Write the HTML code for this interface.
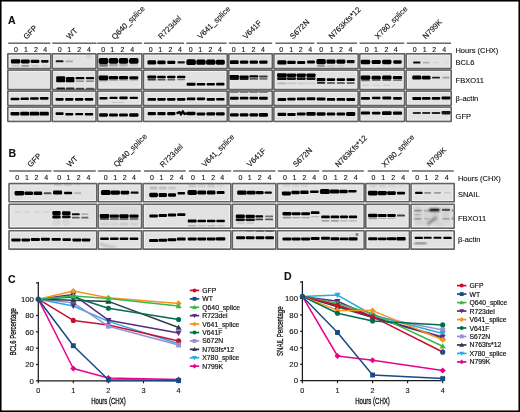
<!DOCTYPE html>
<html><head><meta charset="utf-8"><style>html,body{margin:0;padding:0;background:#fff;width:520px;height:412px;overflow:hidden}svg{will-change:transform}text{font-family:"Liberation Sans", sans-serif}</style></head><body>
<svg width="520" height="412" viewBox="0 0 520 412" style="display:block" font-family='"Liberation Sans", sans-serif' fill="#111">
<defs><filter id="b" x="-30%" y="-60%" width="160%" height="220%"><feGaussianBlur stdDeviation="0.55"/></filter><filter id="b2" x="-20%" y="-40%" width="140%" height="180%"><feGaussianBlur stdDeviation="1.2"/></filter></defs>
<rect x="0" y="0" width="520" height="412" fill="#fff"/>
<rect x="7.00" y="53.00" width="44.50" height="16.30" rx="1.2" fill="#626262"/>
<rect x="8.60" y="54.60" width="41.30" height="13.10" fill="#f5f5f5"/>
<rect x="9.50" y="55.50" width="39.50" height="11.30" fill="#e2e2e2"/>
<rect x="51.50" y="53.00" width="45.30" height="16.30" rx="1.2" fill="#626262"/>
<rect x="53.10" y="54.60" width="42.10" height="13.10" fill="#f5f5f5"/>
<rect x="54.00" y="55.50" width="40.30" height="11.30" fill="#e2e2e2"/>
<rect x="96.80" y="53.00" width="45.85" height="16.30" rx="1.2" fill="#626262"/>
<rect x="98.40" y="54.60" width="42.65" height="13.10" fill="#f5f5f5"/>
<rect x="99.30" y="55.50" width="40.85" height="11.30" fill="#e2e2e2"/>
<rect x="142.65" y="53.00" width="85.35" height="16.30" rx="1.2" fill="#626262"/>
<rect x="144.25" y="54.60" width="82.15" height="13.10" fill="#f5f5f5"/>
<rect x="145.15" y="55.50" width="80.35" height="11.30" fill="#e2e2e2"/>
<rect x="228.00" y="53.00" width="45.10" height="16.30" rx="1.2" fill="#626262"/>
<rect x="229.60" y="54.60" width="41.90" height="13.10" fill="#f5f5f5"/>
<rect x="230.50" y="55.50" width="40.10" height="11.30" fill="#e2e2e2"/>
<rect x="273.10" y="53.00" width="85.85" height="16.30" rx="1.2" fill="#626262"/>
<rect x="274.70" y="54.60" width="82.65" height="13.10" fill="#f5f5f5"/>
<rect x="275.60" y="55.50" width="80.85" height="11.30" fill="#e2e2e2"/>
<rect x="358.95" y="53.00" width="46.40" height="16.30" rx="1.2" fill="#626262"/>
<rect x="360.55" y="54.60" width="43.20" height="13.10" fill="#f5f5f5"/>
<rect x="361.45" y="55.50" width="41.40" height="11.30" fill="#e2e2e2"/>
<rect x="405.35" y="53.00" width="46.65" height="16.30" rx="1.2" fill="#626262"/>
<rect x="406.95" y="54.60" width="43.45" height="13.10" fill="#f5f5f5"/>
<rect x="407.85" y="55.50" width="41.65" height="11.30" fill="#e2e2e2"/>
<rect x="7.00" y="69.30" width="44.50" height="21.00" rx="1.2" fill="#626262"/>
<rect x="8.60" y="70.90" width="41.30" height="17.80" fill="#f5f5f5"/>
<rect x="9.50" y="71.80" width="39.50" height="16.00" fill="#e2e2e2"/>
<rect x="51.50" y="69.30" width="45.30" height="21.00" rx="1.2" fill="#626262"/>
<rect x="53.10" y="70.90" width="42.10" height="17.80" fill="#f5f5f5"/>
<rect x="54.00" y="71.80" width="40.30" height="16.00" fill="#e2e2e2"/>
<rect x="96.80" y="69.30" width="45.85" height="21.00" rx="1.2" fill="#626262"/>
<rect x="98.40" y="70.90" width="42.65" height="17.80" fill="#f5f5f5"/>
<rect x="99.30" y="71.80" width="40.85" height="16.00" fill="#e2e2e2"/>
<rect x="142.65" y="69.30" width="85.35" height="21.00" rx="1.2" fill="#626262"/>
<rect x="144.25" y="70.90" width="82.15" height="17.80" fill="#f5f5f5"/>
<rect x="145.15" y="71.80" width="80.35" height="16.00" fill="#e2e2e2"/>
<rect x="228.00" y="69.30" width="45.10" height="21.00" rx="1.2" fill="#626262"/>
<rect x="229.60" y="70.90" width="41.90" height="17.80" fill="#f5f5f5"/>
<rect x="230.50" y="71.80" width="40.10" height="16.00" fill="#e2e2e2"/>
<rect x="273.10" y="69.30" width="85.85" height="21.00" rx="1.2" fill="#626262"/>
<rect x="274.70" y="70.90" width="82.65" height="17.80" fill="#f5f5f5"/>
<rect x="275.60" y="71.80" width="80.85" height="16.00" fill="#e2e2e2"/>
<rect x="358.95" y="69.30" width="46.40" height="21.00" rx="1.2" fill="#626262"/>
<rect x="360.55" y="70.90" width="43.20" height="17.80" fill="#f5f5f5"/>
<rect x="361.45" y="71.80" width="41.40" height="16.00" fill="#e2e2e2"/>
<rect x="405.35" y="69.30" width="46.65" height="21.00" rx="1.2" fill="#626262"/>
<rect x="406.95" y="70.90" width="43.45" height="17.80" fill="#f5f5f5"/>
<rect x="407.85" y="71.80" width="41.65" height="16.00" fill="#e2e2e2"/>
<rect x="7.00" y="90.30" width="44.50" height="16.00" rx="1.2" fill="#626262"/>
<rect x="8.60" y="91.90" width="41.30" height="12.80" fill="#f5f5f5"/>
<rect x="9.50" y="92.80" width="39.50" height="11.00" fill="#e2e2e2"/>
<rect x="51.50" y="90.30" width="45.30" height="16.00" rx="1.2" fill="#626262"/>
<rect x="53.10" y="91.90" width="42.10" height="12.80" fill="#f5f5f5"/>
<rect x="54.00" y="92.80" width="40.30" height="11.00" fill="#e2e2e2"/>
<rect x="96.80" y="90.30" width="45.85" height="16.00" rx="1.2" fill="#626262"/>
<rect x="98.40" y="91.90" width="42.65" height="12.80" fill="#f5f5f5"/>
<rect x="99.30" y="92.80" width="40.85" height="11.00" fill="#e2e2e2"/>
<rect x="142.65" y="90.30" width="85.35" height="16.00" rx="1.2" fill="#626262"/>
<rect x="144.25" y="91.90" width="82.15" height="12.80" fill="#f5f5f5"/>
<rect x="145.15" y="92.80" width="80.35" height="11.00" fill="#e2e2e2"/>
<rect x="228.00" y="90.30" width="45.10" height="16.00" rx="1.2" fill="#626262"/>
<rect x="229.60" y="91.90" width="41.90" height="12.80" fill="#f5f5f5"/>
<rect x="230.50" y="92.80" width="40.10" height="11.00" fill="#e2e2e2"/>
<rect x="273.10" y="90.30" width="85.85" height="16.00" rx="1.2" fill="#626262"/>
<rect x="274.70" y="91.90" width="82.65" height="12.80" fill="#f5f5f5"/>
<rect x="275.60" y="92.80" width="80.85" height="11.00" fill="#e2e2e2"/>
<rect x="358.95" y="90.30" width="46.40" height="16.00" rx="1.2" fill="#626262"/>
<rect x="360.55" y="91.90" width="43.20" height="12.80" fill="#f5f5f5"/>
<rect x="361.45" y="92.80" width="41.40" height="11.00" fill="#e2e2e2"/>
<rect x="405.35" y="90.30" width="46.65" height="16.00" rx="1.2" fill="#626262"/>
<rect x="406.95" y="91.90" width="43.45" height="12.80" fill="#f5f5f5"/>
<rect x="407.85" y="92.80" width="41.65" height="11.00" fill="#e2e2e2"/>
<rect x="7.00" y="106.30" width="44.50" height="15.90" rx="1.2" fill="#626262"/>
<rect x="8.60" y="107.90" width="41.30" height="12.70" fill="#f5f5f5"/>
<rect x="9.50" y="108.80" width="39.50" height="10.90" fill="#e2e2e2"/>
<rect x="51.50" y="106.30" width="45.30" height="15.90" rx="1.2" fill="#626262"/>
<rect x="53.10" y="107.90" width="42.10" height="12.70" fill="#f5f5f5"/>
<rect x="54.00" y="108.80" width="40.30" height="10.90" fill="#e2e2e2"/>
<rect x="96.80" y="106.30" width="45.85" height="15.90" rx="1.2" fill="#626262"/>
<rect x="98.40" y="107.90" width="42.65" height="12.70" fill="#f5f5f5"/>
<rect x="99.30" y="108.80" width="40.85" height="10.90" fill="#e2e2e2"/>
<rect x="142.65" y="106.30" width="85.35" height="15.90" rx="1.2" fill="#626262"/>
<rect x="144.25" y="107.90" width="82.15" height="12.70" fill="#f5f5f5"/>
<rect x="145.15" y="108.80" width="80.35" height="10.90" fill="#e2e2e2"/>
<rect x="228.00" y="106.30" width="45.10" height="15.90" rx="1.2" fill="#626262"/>
<rect x="229.60" y="107.90" width="41.90" height="12.70" fill="#f5f5f5"/>
<rect x="230.50" y="108.80" width="40.10" height="10.90" fill="#e2e2e2"/>
<rect x="273.10" y="106.30" width="85.85" height="15.90" rx="1.2" fill="#626262"/>
<rect x="274.70" y="107.90" width="82.65" height="12.70" fill="#f5f5f5"/>
<rect x="275.60" y="108.80" width="80.85" height="10.90" fill="#e2e2e2"/>
<rect x="358.95" y="106.30" width="46.40" height="15.90" rx="1.2" fill="#626262"/>
<rect x="360.55" y="107.90" width="43.20" height="12.70" fill="#f5f5f5"/>
<rect x="361.45" y="108.80" width="41.40" height="10.90" fill="#e2e2e2"/>
<rect x="405.35" y="106.30" width="46.65" height="15.90" rx="1.2" fill="#626262"/>
<rect x="406.95" y="107.90" width="43.45" height="12.70" fill="#f5f5f5"/>
<rect x="407.85" y="108.80" width="41.65" height="10.90" fill="#e2e2e2"/>
<rect x="10.95" y="59.20" width="9.30" height="4.40" rx="1.41" fill="#050505" fill-opacity="1" filter="url(#b)"/>
<rect x="20.85" y="59.40" width="8.90" height="4.00" rx="1.28" fill="#050505" fill-opacity="1" filter="url(#b)"/>
<rect x="30.65" y="59.70" width="8.70" height="3.40" rx="1.09" fill="#050505" fill-opacity="1" filter="url(#b)"/>
<rect x="41.05" y="60.10" width="7.50" height="2.60" rx="0.83" fill="#050505" fill-opacity="0.95" filter="url(#b)"/>
<rect x="11.75" y="65.00" width="7.70" height="1.60" rx="0.51" fill="#050505" fill-opacity="0.15" filter="url(#b)"/>
<rect x="21.45" y="64.90" width="7.70" height="1.80" rx="0.58" fill="#050505" fill-opacity="0.35" filter="url(#b)"/>
<rect x="31.15" y="65.00" width="7.70" height="1.60" rx="0.51" fill="#050505" fill-opacity="0.14" filter="url(#b)"/>
<rect x="41.45" y="65.10" width="6.70" height="1.40" rx="0.45" fill="#050505" fill-opacity="0.08" filter="url(#b)"/>
<rect x="55.75" y="60.30" width="7.70" height="2.00" rx="0.64" fill="#050505" fill-opacity="0.9" filter="url(#b)"/>
<rect x="65.55" y="60.40" width="7.50" height="1.80" rx="0.58" fill="#050505" fill-opacity="0.28" filter="url(#b)"/>
<rect x="86.15" y="54.50" width="5.70" height="4.00" rx="1.28" fill="#050505" fill-opacity="0.07" filter="url(#b)"/>
<rect x="98.65" y="57.90" width="9.70" height="6.00" rx="1.92" fill="#050505" fill-opacity="1" filter="url(#b)"/>
<rect x="108.75" y="58.10" width="9.50" height="5.60" rx="1.79" fill="#050505" fill-opacity="1" filter="url(#b)"/>
<rect x="118.75" y="58.10" width="9.50" height="5.60" rx="1.79" fill="#050505" fill-opacity="1" filter="url(#b)"/>
<rect x="129.05" y="58.10" width="9.50" height="5.60" rx="1.79" fill="#050505" fill-opacity="1" filter="url(#b)"/>
<rect x="99.15" y="63.70" width="8.70" height="3.00" rx="0.96" fill="#050505" fill-opacity="0.45" filter="url(#b)"/>
<rect x="109.15" y="63.90" width="8.70" height="2.60" rx="0.83" fill="#050505" fill-opacity="0.25" filter="url(#b)"/>
<rect x="119.15" y="64.00" width="8.70" height="2.40" rx="0.77" fill="#050505" fill-opacity="0.2" filter="url(#b)"/>
<rect x="129.45" y="64.20" width="8.70" height="2.00" rx="0.64" fill="#050505" fill-opacity="0.1" filter="url(#b)"/>
<rect x="147.45" y="60.30" width="8.70" height="4.20" rx="1.34" fill="#050505" fill-opacity="1" filter="url(#b)"/>
<rect x="157.35" y="60.50" width="8.30" height="3.80" rx="1.22" fill="#050505" fill-opacity="1" filter="url(#b)"/>
<rect x="167.25" y="60.70" width="8.10" height="3.40" rx="1.09" fill="#050505" fill-opacity="1" filter="url(#b)"/>
<rect x="177.55" y="61.20" width="7.30" height="2.40" rx="0.77" fill="#050505" fill-opacity="0.9" filter="url(#b)"/>
<rect x="186.35" y="59.30" width="9.50" height="5.80" rx="1.86" fill="#050505" fill-opacity="1" filter="url(#b)"/>
<rect x="196.35" y="59.60" width="9.30" height="5.20" rx="1.66" fill="#050505" fill-opacity="1" filter="url(#b)"/>
<rect x="206.15" y="59.60" width="9.30" height="5.20" rx="1.66" fill="#050505" fill-opacity="1" filter="url(#b)"/>
<rect x="215.75" y="59.70" width="9.10" height="5.00" rx="1.60" fill="#050505" fill-opacity="1" filter="url(#b)"/>
<rect x="229.95" y="60.30" width="8.70" height="3.80" rx="1.22" fill="#050505" fill-opacity="1" filter="url(#b)"/>
<rect x="239.95" y="60.55" width="8.30" height="3.30" rx="1.06" fill="#050505" fill-opacity="1" filter="url(#b)"/>
<rect x="249.65" y="60.55" width="8.30" height="3.30" rx="1.06" fill="#050505" fill-opacity="1" filter="url(#b)"/>
<rect x="259.25" y="60.55" width="8.30" height="3.30" rx="1.06" fill="#050505" fill-opacity="1" filter="url(#b)"/>
<rect x="277.35" y="60.30" width="9.10" height="4.20" rx="1.34" fill="#050505" fill-opacity="1" filter="url(#b)"/>
<rect x="287.25" y="60.70" width="8.50" height="3.40" rx="1.09" fill="#050505" fill-opacity="1" filter="url(#b)"/>
<rect x="297.15" y="60.90" width="8.10" height="3.00" rx="0.96" fill="#050505" fill-opacity="1" filter="url(#b)"/>
<rect x="307.05" y="60.60" width="7.90" height="2.80" rx="0.90" fill="#050505" fill-opacity="1" filter="url(#b)"/>
<rect x="316.35" y="59.00" width="9.50" height="5.20" rx="1.66" fill="#050505" fill-opacity="1" filter="url(#b)"/>
<rect x="326.55" y="59.40" width="8.90" height="4.40" rx="1.41" fill="#050505" fill-opacity="1" filter="url(#b)"/>
<rect x="336.45" y="59.50" width="8.90" height="4.20" rx="1.34" fill="#050505" fill-opacity="1" filter="url(#b)"/>
<rect x="346.75" y="60.00" width="7.90" height="3.20" rx="1.02" fill="#050505" fill-opacity="0.92" filter="url(#b)"/>
<rect x="317.25" y="64.70" width="7.70" height="2.20" rx="0.70" fill="#050505" fill-opacity="0.3" filter="url(#b)"/>
<rect x="327.15" y="64.90" width="7.70" height="1.80" rx="0.58" fill="#050505" fill-opacity="0.12" filter="url(#b)"/>
<rect x="337.05" y="65.00" width="7.70" height="1.60" rx="0.51" fill="#050505" fill-opacity="0.1" filter="url(#b)"/>
<rect x="360.75" y="59.70" width="9.50" height="4.60" rx="1.47" fill="#050505" fill-opacity="1" filter="url(#b)"/>
<rect x="371.65" y="59.90" width="9.10" height="4.20" rx="1.34" fill="#050505" fill-opacity="1" filter="url(#b)"/>
<rect x="382.15" y="59.80" width="9.30" height="4.40" rx="1.41" fill="#050505" fill-opacity="1" filter="url(#b)"/>
<rect x="393.25" y="60.30" width="8.50" height="3.40" rx="1.09" fill="#050505" fill-opacity="1" filter="url(#b)"/>
<rect x="413.15" y="61.60" width="7.30" height="2.00" rx="0.64" fill="#050505" fill-opacity="0.95" filter="url(#b)"/>
<rect x="422.85" y="61.70" width="6.70" height="1.80" rx="0.58" fill="#050505" fill-opacity="0.22" filter="url(#b)"/>
<rect x="432.90" y="61.85" width="6.20" height="1.50" rx="0.48" fill="#050505" fill-opacity="0.07" filter="url(#b)"/>
<rect x="443.15" y="61.90" width="5.70" height="1.40" rx="0.45" fill="#050505" fill-opacity="0.04" filter="url(#b)"/>
<rect x="56.15" y="76.30" width="9.10" height="3.80" rx="1.22" fill="#050505" fill-opacity="1" filter="url(#b)"/>
<rect x="65.95" y="77.10" width="8.50" height="3.00" rx="0.96" fill="#050505" fill-opacity="1" filter="url(#b)"/>
<rect x="75.65" y="77.00" width="8.70" height="2.20" rx="0.70" fill="#050505" fill-opacity="1" filter="url(#b)"/>
<rect x="85.85" y="77.00" width="8.30" height="2.20" rx="0.70" fill="#050505" fill-opacity="0.95" filter="url(#b)"/>
<rect x="56.15" y="79.70" width="9.10" height="2.60" rx="0.83" fill="#050505" fill-opacity="1" filter="url(#b)"/>
<rect x="65.95" y="79.80" width="8.50" height="2.40" rx="0.77" fill="#050505" fill-opacity="1" filter="url(#b)"/>
<rect x="75.95" y="80.40" width="8.10" height="1.40" rx="0.45" fill="#050505" fill-opacity="0.45" filter="url(#b)"/>
<rect x="86.05" y="80.40" width="7.90" height="1.40" rx="0.45" fill="#050505" fill-opacity="0.5" filter="url(#b)"/>
<rect x="56.45" y="87.50" width="8.50" height="1.80" rx="0.58" fill="#050505" fill-opacity="0.9" filter="url(#b)"/>
<rect x="66.05" y="87.60" width="8.30" height="1.60" rx="0.51" fill="#050505" fill-opacity="0.8" filter="url(#b)"/>
<rect x="75.95" y="87.65" width="8.10" height="1.50" rx="0.48" fill="#050505" fill-opacity="0.7" filter="url(#b)"/>
<rect x="86.05" y="87.65" width="7.90" height="1.50" rx="0.48" fill="#050505" fill-opacity="0.6" filter="url(#b)"/>
<rect x="98.65" y="75.50" width="9.70" height="4.60" rx="1.47" fill="#050505" fill-opacity="1" filter="url(#b)"/>
<rect x="108.85" y="76.00" width="9.30" height="3.60" rx="1.15" fill="#050505" fill-opacity="1" filter="url(#b)"/>
<rect x="118.95" y="76.10" width="9.10" height="3.40" rx="1.09" fill="#050505" fill-opacity="1" filter="url(#b)"/>
<rect x="129.35" y="76.20" width="8.90" height="3.20" rx="1.02" fill="#050505" fill-opacity="1" filter="url(#b)"/>
<rect x="99.15" y="79.50" width="8.70" height="1.80" rx="0.58" fill="#050505" fill-opacity="0.45" filter="url(#b)"/>
<rect x="109.15" y="79.70" width="8.70" height="1.40" rx="0.45" fill="#050505" fill-opacity="0.25" filter="url(#b)"/>
<rect x="119.15" y="79.70" width="8.70" height="1.40" rx="0.45" fill="#050505" fill-opacity="0.2" filter="url(#b)"/>
<rect x="129.45" y="79.80" width="8.70" height="1.20" rx="0.38" fill="#050505" fill-opacity="0.15" filter="url(#b)"/>
<rect x="147.35" y="75.60" width="8.90" height="2.80" rx="0.90" fill="#050505" fill-opacity="1" filter="url(#b)"/>
<rect x="157.25" y="75.70" width="8.50" height="2.60" rx="0.83" fill="#050505" fill-opacity="1" filter="url(#b)"/>
<rect x="167.15" y="75.70" width="8.30" height="2.60" rx="0.83" fill="#050505" fill-opacity="1" filter="url(#b)"/>
<rect x="177.05" y="75.80" width="8.30" height="2.40" rx="0.77" fill="#050505" fill-opacity="1" filter="url(#b)"/>
<rect x="147.65" y="78.70" width="8.30" height="1.80" rx="0.58" fill="#050505" fill-opacity="0.75" filter="url(#b)"/>
<rect x="157.55" y="78.80" width="7.90" height="1.60" rx="0.51" fill="#050505" fill-opacity="0.6" filter="url(#b)"/>
<rect x="167.45" y="78.80" width="7.70" height="1.60" rx="0.51" fill="#050505" fill-opacity="0.55" filter="url(#b)"/>
<rect x="177.35" y="78.90" width="7.70" height="1.40" rx="0.45" fill="#050505" fill-opacity="0.45" filter="url(#b)"/>
<rect x="186.65" y="82.70" width="8.90" height="3.00" rx="0.96" fill="#050505" fill-opacity="1" filter="url(#b)"/>
<rect x="196.75" y="82.90" width="8.50" height="2.60" rx="0.83" fill="#050505" fill-opacity="1" filter="url(#b)"/>
<rect x="206.65" y="82.90" width="8.30" height="2.60" rx="0.83" fill="#050505" fill-opacity="1" filter="url(#b)"/>
<rect x="216.15" y="82.80" width="8.30" height="2.80" rx="0.90" fill="#050505" fill-opacity="1" filter="url(#b)"/>
<rect x="229.65" y="75.10" width="9.30" height="3.40" rx="1.09" fill="#050505" fill-opacity="1" filter="url(#b)"/>
<rect x="239.55" y="75.50" width="9.10" height="3.00" rx="0.96" fill="#050505" fill-opacity="1" filter="url(#b)"/>
<rect x="249.35" y="75.20" width="8.90" height="2.40" rx="0.77" fill="#050505" fill-opacity="1" filter="url(#b)"/>
<rect x="259.15" y="75.60" width="8.50" height="2.00" rx="0.64" fill="#050505" fill-opacity="0.75" filter="url(#b)"/>
<rect x="229.75" y="77.70" width="9.10" height="2.40" rx="0.77" fill="#050505" fill-opacity="0.9" filter="url(#b)"/>
<rect x="239.65" y="77.80" width="8.90" height="2.20" rx="0.70" fill="#050505" fill-opacity="0.85" filter="url(#b)"/>
<rect x="249.55" y="78.10" width="8.50" height="1.60" rx="0.51" fill="#050505" fill-opacity="0.6" filter="url(#b)"/>
<rect x="259.35" y="78.10" width="8.10" height="1.60" rx="0.51" fill="#050505" fill-opacity="0.5" filter="url(#b)"/>
<rect x="277.05" y="73.20" width="9.70" height="4.00" rx="1.28" fill="#050505" fill-opacity="1" filter="url(#b)"/>
<rect x="286.85" y="73.50" width="9.30" height="3.40" rx="1.09" fill="#050505" fill-opacity="1" filter="url(#b)"/>
<rect x="296.55" y="73.50" width="9.30" height="3.40" rx="1.09" fill="#050505" fill-opacity="1" filter="url(#b)"/>
<rect x="306.35" y="73.40" width="9.30" height="3.60" rx="1.15" fill="#050505" fill-opacity="1" filter="url(#b)"/>
<rect x="277.15" y="77.20" width="9.50" height="2.80" rx="0.90" fill="#050505" fill-opacity="0.95" filter="url(#b)"/>
<rect x="286.95" y="77.30" width="9.10" height="2.60" rx="0.83" fill="#050505" fill-opacity="0.9" filter="url(#b)"/>
<rect x="296.65" y="77.30" width="9.10" height="2.60" rx="0.83" fill="#050505" fill-opacity="0.9" filter="url(#b)"/>
<rect x="306.45" y="77.30" width="9.10" height="2.60" rx="0.83" fill="#050505" fill-opacity="0.9" filter="url(#b)"/>
<rect x="277.55" y="82.50" width="8.70" height="1.80" rx="0.58" fill="#050505" fill-opacity="0.2" filter="url(#b)"/>
<rect x="287.15" y="82.60" width="8.70" height="1.60" rx="0.51" fill="#050505" fill-opacity="0.12" filter="url(#b)"/>
<rect x="296.85" y="82.60" width="8.70" height="1.60" rx="0.51" fill="#050505" fill-opacity="0.1" filter="url(#b)"/>
<rect x="306.65" y="82.60" width="8.70" height="1.60" rx="0.51" fill="#050505" fill-opacity="0.08" filter="url(#b)"/>
<rect x="316.75" y="78.00" width="8.70" height="3.20" rx="1.02" fill="#050505" fill-opacity="1" filter="url(#b)"/>
<rect x="326.85" y="78.20" width="8.30" height="2.80" rx="0.90" fill="#050505" fill-opacity="1" filter="url(#b)"/>
<rect x="336.75" y="78.20" width="8.30" height="2.80" rx="0.90" fill="#050505" fill-opacity="1" filter="url(#b)"/>
<rect x="346.55" y="78.20" width="8.30" height="2.80" rx="0.90" fill="#050505" fill-opacity="1" filter="url(#b)"/>
<rect x="317.05" y="82.10" width="8.10" height="1.60" rx="0.51" fill="#050505" fill-opacity="0.85" filter="url(#b)"/>
<rect x="327.05" y="82.15" width="7.90" height="1.50" rx="0.48" fill="#050505" fill-opacity="0.7" filter="url(#b)"/>
<rect x="336.95" y="82.15" width="7.90" height="1.50" rx="0.48" fill="#050505" fill-opacity="0.7" filter="url(#b)"/>
<rect x="346.75" y="82.15" width="7.90" height="1.50" rx="0.48" fill="#050505" fill-opacity="0.7" filter="url(#b)"/>
<rect x="360.65" y="75.50" width="9.70" height="4.20" rx="1.34" fill="#050505" fill-opacity="1" filter="url(#b)"/>
<rect x="371.55" y="75.70" width="9.30" height="3.80" rx="1.22" fill="#050505" fill-opacity="1" filter="url(#b)"/>
<rect x="382.05" y="75.60" width="9.50" height="4.00" rx="1.28" fill="#050505" fill-opacity="1" filter="url(#b)"/>
<rect x="392.85" y="75.90" width="9.30" height="3.40" rx="1.09" fill="#050505" fill-opacity="1" filter="url(#b)"/>
<rect x="361.15" y="79.20" width="8.70" height="2.00" rx="0.64" fill="#050505" fill-opacity="0.55" filter="url(#b)"/>
<rect x="371.85" y="79.30" width="8.70" height="1.80" rx="0.58" fill="#050505" fill-opacity="0.5" filter="url(#b)"/>
<rect x="382.45" y="79.30" width="8.70" height="1.80" rx="0.58" fill="#050505" fill-opacity="0.55" filter="url(#b)"/>
<rect x="393.15" y="79.40" width="8.70" height="1.60" rx="0.51" fill="#050505" fill-opacity="0.45" filter="url(#b)"/>
<rect x="362.15" y="84.70" width="6.70" height="1.40" rx="0.45" fill="#050505" fill-opacity="0.1" filter="url(#b)"/>
<rect x="372.85" y="84.70" width="6.70" height="1.40" rx="0.45" fill="#050505" fill-opacity="0.08" filter="url(#b)"/>
<rect x="383.45" y="84.70" width="6.70" height="1.40" rx="0.45" fill="#050505" fill-opacity="0.1" filter="url(#b)"/>
<rect x="412.25" y="75.60" width="9.10" height="4.00" rx="1.28" fill="#050505" fill-opacity="1" filter="url(#b)"/>
<rect x="421.85" y="75.70" width="8.70" height="3.80" rx="1.22" fill="#050505" fill-opacity="1" filter="url(#b)"/>
<rect x="432.05" y="76.70" width="7.90" height="1.80" rx="0.58" fill="#050505" fill-opacity="0.85" filter="url(#b)"/>
<rect x="442.35" y="76.80" width="7.30" height="1.60" rx="0.51" fill="#050505" fill-opacity="0.3" filter="url(#b)"/>
<rect x="10.65" y="97.70" width="8.70" height="2.60" rx="0.83" fill="#050505" fill-opacity="1" filter="url(#b)"/>
<rect x="20.55" y="97.40" width="8.30" height="2.60" rx="0.83" fill="#050505" fill-opacity="1" filter="url(#b)"/>
<rect x="30.05" y="97.20" width="8.70" height="2.60" rx="0.83" fill="#050505" fill-opacity="1" filter="url(#b)"/>
<rect x="39.85" y="97.10" width="8.70" height="2.60" rx="0.83" fill="#050505" fill-opacity="1" filter="url(#b)"/>
<rect x="55.55" y="98.10" width="8.10" height="2.60" rx="0.83" fill="#050505" fill-opacity="1" filter="url(#b)"/>
<rect x="65.15" y="98.10" width="8.30" height="2.60" rx="0.83" fill="#050505" fill-opacity="1" filter="url(#b)"/>
<rect x="74.95" y="98.10" width="8.50" height="2.60" rx="0.83" fill="#050505" fill-opacity="1" filter="url(#b)"/>
<rect x="84.75" y="98.10" width="8.50" height="2.60" rx="0.83" fill="#050505" fill-opacity="1" filter="url(#b)"/>
<rect x="99.45" y="96.90" width="8.10" height="2.60" rx="0.83" fill="#050505" fill-opacity="1" filter="url(#b)"/>
<rect x="109.45" y="96.70" width="8.10" height="2.40" rx="0.77" fill="#050505" fill-opacity="1" filter="url(#b)"/>
<rect x="119.25" y="96.60" width="8.50" height="2.60" rx="0.83" fill="#050505" fill-opacity="1" filter="url(#b)"/>
<rect x="129.65" y="96.70" width="8.30" height="2.40" rx="0.77" fill="#050505" fill-opacity="1" filter="url(#b)"/>
<rect x="111.65" y="101.90" width="12.70" height="1.20" rx="0.38" fill="#050505" fill-opacity="0.12" filter="url(#b)"/>
<rect x="147.55" y="98.00" width="8.50" height="2.80" rx="0.90" fill="#050505" fill-opacity="1" filter="url(#b)"/>
<rect x="157.25" y="98.10" width="8.50" height="2.60" rx="0.83" fill="#050505" fill-opacity="1" filter="url(#b)"/>
<rect x="167.05" y="98.10" width="8.50" height="2.60" rx="0.83" fill="#050505" fill-opacity="1" filter="url(#b)"/>
<rect x="176.95" y="98.10" width="8.50" height="2.60" rx="0.83" fill="#050505" fill-opacity="1" filter="url(#b)"/>
<rect x="186.85" y="97.50" width="8.50" height="2.80" rx="0.90" fill="#050505" fill-opacity="1" filter="url(#b)"/>
<rect x="196.85" y="97.60" width="8.30" height="2.60" rx="0.83" fill="#050505" fill-opacity="1" filter="url(#b)"/>
<rect x="206.65" y="97.90" width="8.30" height="2.80" rx="0.90" fill="#050505" fill-opacity="1" filter="url(#b)"/>
<rect x="216.15" y="98.00" width="8.30" height="2.60" rx="0.83" fill="#050505" fill-opacity="1" filter="url(#b)"/>
<rect x="229.95" y="96.70" width="8.70" height="3.00" rx="0.96" fill="#050505" fill-opacity="1" filter="url(#b)"/>
<rect x="239.85" y="96.80" width="8.50" height="2.80" rx="0.90" fill="#050505" fill-opacity="1" filter="url(#b)"/>
<rect x="249.55" y="96.80" width="8.50" height="2.80" rx="0.90" fill="#050505" fill-opacity="1" filter="url(#b)"/>
<rect x="259.05" y="96.70" width="8.70" height="3.00" rx="0.96" fill="#050505" fill-opacity="1" filter="url(#b)"/>
<rect x="229.95" y="91.90" width="8.70" height="1.00" rx="0.32" fill="#050505" fill-opacity="0.45" filter="url(#b)"/>
<rect x="239.75" y="91.90" width="8.70" height="1.00" rx="0.32" fill="#050505" fill-opacity="0.45" filter="url(#b)"/>
<rect x="249.45" y="91.90" width="8.70" height="1.00" rx="0.32" fill="#050505" fill-opacity="0.45" filter="url(#b)"/>
<rect x="259.05" y="91.90" width="8.70" height="1.00" rx="0.32" fill="#050505" fill-opacity="0.45" filter="url(#b)"/>
<rect x="277.55" y="97.90" width="8.70" height="3.00" rx="0.96" fill="#050505" fill-opacity="1" filter="url(#b)"/>
<rect x="287.35" y="97.70" width="8.30" height="2.80" rx="0.90" fill="#050505" fill-opacity="1" filter="url(#b)"/>
<rect x="296.95" y="97.50" width="8.50" height="2.80" rx="0.90" fill="#050505" fill-opacity="1" filter="url(#b)"/>
<rect x="306.65" y="97.30" width="8.70" height="3.00" rx="0.96" fill="#050505" fill-opacity="1" filter="url(#b)"/>
<rect x="316.75" y="97.50" width="8.70" height="3.00" rx="0.96" fill="#050505" fill-opacity="1" filter="url(#b)"/>
<rect x="326.85" y="98.00" width="8.30" height="2.80" rx="0.90" fill="#050505" fill-opacity="1" filter="url(#b)"/>
<rect x="336.65" y="98.00" width="8.50" height="2.80" rx="0.90" fill="#050505" fill-opacity="1" filter="url(#b)"/>
<rect x="346.35" y="97.90" width="8.70" height="3.00" rx="0.96" fill="#050505" fill-opacity="1" filter="url(#b)"/>
<rect x="361.05" y="97.00" width="8.90" height="2.80" rx="0.90" fill="#050505" fill-opacity="1" filter="url(#b)"/>
<rect x="371.95" y="96.70" width="8.50" height="2.60" rx="0.83" fill="#050505" fill-opacity="1" filter="url(#b)"/>
<rect x="382.35" y="96.60" width="8.90" height="2.80" rx="0.90" fill="#050505" fill-opacity="1" filter="url(#b)"/>
<rect x="393.05" y="97.10" width="8.90" height="2.60" rx="0.83" fill="#050505" fill-opacity="1" filter="url(#b)"/>
<rect x="412.35" y="96.90" width="8.90" height="3.00" rx="0.96" fill="#050505" fill-opacity="1" filter="url(#b)"/>
<rect x="421.95" y="97.00" width="8.50" height="2.80" rx="0.90" fill="#050505" fill-opacity="1" filter="url(#b)"/>
<rect x="431.75" y="97.10" width="8.50" height="2.60" rx="0.83" fill="#050505" fill-opacity="1" filter="url(#b)"/>
<rect x="441.55" y="96.60" width="8.90" height="2.80" rx="0.90" fill="#050505" fill-opacity="1" filter="url(#b)"/>
<rect x="10.45" y="112.00" width="9.10" height="3.40" rx="1.09" fill="#050505" fill-opacity="1" filter="url(#b)"/>
<rect x="20.25" y="111.80" width="8.90" height="3.80" rx="1.22" fill="#050505" fill-opacity="1" filter="url(#b)"/>
<rect x="29.65" y="111.80" width="9.50" height="3.80" rx="1.22" fill="#050505" fill-opacity="1" filter="url(#b)"/>
<rect x="39.55" y="111.80" width="9.30" height="3.80" rx="1.22" fill="#050505" fill-opacity="1" filter="url(#b)"/>
<rect x="55.55" y="112.30" width="8.10" height="2.60" rx="0.83" fill="#050505" fill-opacity="1" filter="url(#b)"/>
<rect x="65.35" y="113.00" width="7.90" height="2.40" rx="0.77" fill="#050505" fill-opacity="1" filter="url(#b)"/>
<rect x="75.25" y="113.10" width="7.90" height="2.20" rx="0.70" fill="#050505" fill-opacity="1" filter="url(#b)"/>
<rect x="84.85" y="112.90" width="8.30" height="2.60" rx="0.83" fill="#050505" fill-opacity="1" filter="url(#b)"/>
<rect x="99.05" y="113.30" width="8.90" height="3.40" rx="1.09" fill="#050505" fill-opacity="1" filter="url(#b)"/>
<rect x="109.05" y="113.40" width="8.90" height="3.20" rx="1.02" fill="#050505" fill-opacity="1" filter="url(#b)"/>
<rect x="119.05" y="113.40" width="8.90" height="3.20" rx="1.02" fill="#050505" fill-opacity="1" filter="url(#b)"/>
<rect x="129.15" y="113.20" width="9.30" height="3.60" rx="1.15" fill="#050505" fill-opacity="1" filter="url(#b)"/>
<rect x="147.65" y="111.90" width="8.30" height="3.40" rx="1.09" fill="#050505" fill-opacity="1" filter="url(#b)"/>
<rect x="157.35" y="112.00" width="8.30" height="3.20" rx="1.02" fill="#050505" fill-opacity="1" filter="url(#b)"/>
<rect x="167.15" y="111.90" width="8.30" height="3.40" rx="1.09" fill="#050505" fill-opacity="1" filter="url(#b)"/>
<path d="M176.5,113.4 L179.5,112.2 L181,114.2 L182.8,111.6 L184.5,114 L187,113.4" stroke="#050505" stroke-width="2.4" fill="none" filter="url(#b)"/>
<rect x="186.65" y="111.80" width="8.90" height="3.40" rx="1.09" fill="#050505" fill-opacity="1" filter="url(#b)"/>
<rect x="196.75" y="112.40" width="8.50" height="3.00" rx="0.96" fill="#050505" fill-opacity="1" filter="url(#b)"/>
<rect x="206.45" y="112.20" width="8.70" height="3.40" rx="1.09" fill="#050505" fill-opacity="1" filter="url(#b)"/>
<rect x="215.95" y="112.20" width="8.70" height="3.40" rx="1.09" fill="#050505" fill-opacity="1" filter="url(#b)"/>
<rect x="229.95" y="113.20" width="8.70" height="3.40" rx="1.09" fill="#050505" fill-opacity="1" filter="url(#b)"/>
<rect x="239.85" y="113.30" width="8.50" height="3.20" rx="1.02" fill="#050505" fill-opacity="1" filter="url(#b)"/>
<rect x="249.55" y="113.30" width="8.50" height="3.20" rx="1.02" fill="#050505" fill-opacity="1" filter="url(#b)"/>
<rect x="258.85" y="113.00" width="9.10" height="3.80" rx="1.22" fill="#050505" fill-opacity="1" filter="url(#b)"/>
<rect x="277.55" y="112.80" width="8.70" height="3.20" rx="1.02" fill="#050505" fill-opacity="1" filter="url(#b)"/>
<rect x="287.35" y="112.90" width="8.30" height="3.00" rx="0.96" fill="#050505" fill-opacity="1" filter="url(#b)"/>
<rect x="296.85" y="112.40" width="8.70" height="3.20" rx="1.02" fill="#050505" fill-opacity="1" filter="url(#b)"/>
<rect x="306.35" y="111.90" width="9.30" height="3.80" rx="1.22" fill="#050505" fill-opacity="1" filter="url(#b)"/>
<rect x="316.65" y="112.30" width="8.90" height="3.40" rx="1.09" fill="#050505" fill-opacity="1" filter="url(#b)"/>
<rect x="326.75" y="112.40" width="8.50" height="3.20" rx="1.02" fill="#050505" fill-opacity="1" filter="url(#b)"/>
<rect x="336.65" y="112.40" width="8.50" height="3.20" rx="1.02" fill="#050505" fill-opacity="1" filter="url(#b)"/>
<rect x="346.15" y="112.00" width="9.10" height="4.00" rx="1.28" fill="#050505" fill-opacity="1" filter="url(#b)"/>
<rect x="360.95" y="111.60" width="9.10" height="3.00" rx="0.96" fill="#050505" fill-opacity="1" filter="url(#b)"/>
<rect x="371.95" y="111.70" width="8.50" height="2.80" rx="0.90" fill="#050505" fill-opacity="1" filter="url(#b)"/>
<rect x="381.95" y="111.20" width="9.70" height="3.80" rx="1.22" fill="#050505" fill-opacity="1" filter="url(#b)"/>
<rect x="392.95" y="111.50" width="9.10" height="3.20" rx="1.02" fill="#050505" fill-opacity="1" filter="url(#b)"/>
<rect x="412.75" y="112.00" width="8.10" height="2.00" rx="0.64" fill="#17120c" fill-opacity="0.88" filter="url(#b)"/>
<rect x="422.15" y="112.00" width="8.10" height="2.00" rx="0.64" fill="#17120c" fill-opacity="0.88" filter="url(#b)"/>
<rect x="431.85" y="111.90" width="8.30" height="2.20" rx="0.70" fill="#17120c" fill-opacity="0.9" filter="url(#b)"/>
<rect x="441.55" y="111.00" width="8.90" height="3.40" rx="1.09" fill="#17120c" fill-opacity="1" filter="url(#b)"/>
<rect x="8.20" y="182.80" width="89.30" height="19.80" rx="1.2" fill="#626262"/>
<rect x="9.80" y="184.40" width="86.10" height="16.60" fill="#f5f5f5"/>
<rect x="10.70" y="185.30" width="84.30" height="14.80" fill="#e2e2e2"/>
<rect x="97.50" y="182.80" width="44.80" height="19.80" rx="1.2" fill="#626262"/>
<rect x="99.10" y="184.40" width="41.60" height="16.60" fill="#f5f5f5"/>
<rect x="100.00" y="185.30" width="39.80" height="14.80" fill="#e2e2e2"/>
<rect x="142.30" y="182.80" width="89.30" height="19.80" rx="1.2" fill="#626262"/>
<rect x="143.90" y="184.40" width="86.10" height="16.60" fill="#f5f5f5"/>
<rect x="144.80" y="185.30" width="84.30" height="14.80" fill="#e2e2e2"/>
<rect x="231.60" y="182.80" width="45.05" height="19.80" rx="1.2" fill="#626262"/>
<rect x="233.20" y="184.40" width="41.85" height="16.60" fill="#f5f5f5"/>
<rect x="234.10" y="185.30" width="40.05" height="14.80" fill="#e2e2e2"/>
<rect x="276.65" y="182.80" width="88.30" height="19.80" rx="1.2" fill="#626262"/>
<rect x="278.25" y="184.40" width="85.10" height="16.60" fill="#f5f5f5"/>
<rect x="279.15" y="185.30" width="83.30" height="14.80" fill="#e2e2e2"/>
<rect x="364.95" y="182.80" width="45.30" height="19.80" rx="1.2" fill="#626262"/>
<rect x="366.55" y="184.40" width="42.10" height="16.60" fill="#f5f5f5"/>
<rect x="367.45" y="185.30" width="40.30" height="14.80" fill="#e2e2e2"/>
<rect x="410.25" y="182.80" width="44.75" height="19.80" rx="1.2" fill="#626262"/>
<rect x="411.85" y="184.40" width="41.55" height="16.60" fill="#f5f5f5"/>
<rect x="412.75" y="185.30" width="39.75" height="14.80" fill="#e2e2e2"/>
<rect x="8.20" y="203.50" width="89.30" height="25.50" rx="1.2" fill="#626262"/>
<rect x="9.80" y="205.10" width="86.10" height="22.30" fill="#f5f5f5"/>
<rect x="10.70" y="206.00" width="84.30" height="20.50" fill="#e2e2e2"/>
<rect x="97.50" y="203.50" width="44.80" height="25.50" rx="1.2" fill="#626262"/>
<rect x="99.10" y="205.10" width="41.60" height="22.30" fill="#f5f5f5"/>
<rect x="100.00" y="206.00" width="39.80" height="20.50" fill="#e2e2e2"/>
<rect x="142.30" y="203.50" width="89.30" height="25.50" rx="1.2" fill="#626262"/>
<rect x="143.90" y="205.10" width="86.10" height="22.30" fill="#f5f5f5"/>
<rect x="144.80" y="206.00" width="84.30" height="20.50" fill="#e2e2e2"/>
<rect x="231.60" y="203.50" width="45.05" height="25.50" rx="1.2" fill="#626262"/>
<rect x="233.20" y="205.10" width="41.85" height="22.30" fill="#f5f5f5"/>
<rect x="234.10" y="206.00" width="40.05" height="20.50" fill="#e2e2e2"/>
<rect x="276.65" y="203.50" width="88.30" height="25.50" rx="1.2" fill="#626262"/>
<rect x="278.25" y="205.10" width="85.10" height="22.30" fill="#f5f5f5"/>
<rect x="279.15" y="206.00" width="83.30" height="20.50" fill="#e2e2e2"/>
<rect x="364.95" y="203.50" width="45.30" height="25.50" rx="1.2" fill="#626262"/>
<rect x="366.55" y="205.10" width="42.10" height="22.30" fill="#f5f5f5"/>
<rect x="367.45" y="206.00" width="40.30" height="20.50" fill="#e2e2e2"/>
<rect x="410.25" y="203.50" width="44.75" height="25.50" rx="1.2" fill="#626262"/>
<rect x="411.85" y="205.10" width="41.55" height="22.30" fill="#f5f5f5"/>
<rect x="412.75" y="206.00" width="39.75" height="20.50" fill="#e2e2e2"/>
<rect x="8.20" y="229.90" width="89.30" height="20.00" rx="1.2" fill="#626262"/>
<rect x="9.80" y="231.50" width="86.10" height="16.80" fill="#f5f5f5"/>
<rect x="10.70" y="232.40" width="84.30" height="15.00" fill="#e2e2e2"/>
<rect x="97.50" y="229.90" width="44.80" height="20.00" rx="1.2" fill="#626262"/>
<rect x="99.10" y="231.50" width="41.60" height="16.80" fill="#f5f5f5"/>
<rect x="100.00" y="232.40" width="39.80" height="15.00" fill="#e2e2e2"/>
<rect x="142.30" y="229.90" width="89.30" height="20.00" rx="1.2" fill="#626262"/>
<rect x="143.90" y="231.50" width="86.10" height="16.80" fill="#f5f5f5"/>
<rect x="144.80" y="232.40" width="84.30" height="15.00" fill="#e2e2e2"/>
<rect x="231.60" y="229.90" width="45.05" height="20.00" rx="1.2" fill="#626262"/>
<rect x="233.20" y="231.50" width="41.85" height="16.80" fill="#f5f5f5"/>
<rect x="234.10" y="232.40" width="40.05" height="15.00" fill="#e2e2e2"/>
<rect x="276.65" y="229.90" width="88.30" height="20.00" rx="1.2" fill="#626262"/>
<rect x="278.25" y="231.50" width="85.10" height="16.80" fill="#f5f5f5"/>
<rect x="279.15" y="232.40" width="83.30" height="15.00" fill="#e2e2e2"/>
<rect x="364.95" y="229.90" width="45.30" height="20.00" rx="1.2" fill="#626262"/>
<rect x="366.55" y="231.50" width="42.10" height="16.80" fill="#f5f5f5"/>
<rect x="367.45" y="232.40" width="40.30" height="15.00" fill="#e2e2e2"/>
<rect x="410.25" y="229.90" width="44.75" height="20.00" rx="1.2" fill="#626262"/>
<rect x="411.85" y="231.50" width="41.55" height="16.80" fill="#f5f5f5"/>
<rect x="412.75" y="232.40" width="39.75" height="15.00" fill="#e2e2e2"/>
<rect x="14.55" y="191.10" width="9.70" height="4.40" rx="1.41" fill="#050505" fill-opacity="1" filter="url(#b)"/>
<rect x="24.55" y="191.50" width="8.50" height="3.60" rx="1.15" fill="#050505" fill-opacity="1" filter="url(#b)"/>
<rect x="33.65" y="191.60" width="8.50" height="3.40" rx="1.09" fill="#050505" fill-opacity="1" filter="url(#b)"/>
<rect x="43.75" y="192.30" width="7.70" height="2.00" rx="0.64" fill="#050505" fill-opacity="0.65" filter="url(#b)"/>
<rect x="53.05" y="190.60" width="9.10" height="3.80" rx="1.22" fill="#050505" fill-opacity="1" filter="url(#b)"/>
<rect x="64.05" y="191.80" width="8.10" height="2.40" rx="0.77" fill="#050505" fill-opacity="1" filter="url(#b)"/>
<rect x="74.15" y="192.30" width="7.10" height="1.60" rx="0.51" fill="#050505" fill-opacity="0.2" filter="url(#b)"/>
<rect x="53.75" y="183.70" width="7.70" height="2.20" rx="0.70" fill="#050505" fill-opacity="0.1" filter="url(#b)"/>
<rect x="64.25" y="183.70" width="7.70" height="2.20" rx="0.70" fill="#050505" fill-opacity="0.1" filter="url(#b)"/>
<rect x="74.35" y="183.80" width="6.70" height="2.00" rx="0.64" fill="#050505" fill-opacity="0.05" filter="url(#b)"/>
<rect x="100.95" y="190.10" width="9.70" height="5.00" rx="1.60" fill="#050505" fill-opacity="1" filter="url(#b)"/>
<rect x="110.65" y="190.50" width="9.30" height="4.20" rx="1.34" fill="#050505" fill-opacity="1" filter="url(#b)"/>
<rect x="120.55" y="190.80" width="8.70" height="3.60" rx="1.15" fill="#050505" fill-opacity="1" filter="url(#b)"/>
<rect x="130.65" y="191.40" width="7.90" height="2.40" rx="0.77" fill="#050505" fill-opacity="0.95" filter="url(#b)"/>
<rect x="149.25" y="192.70" width="8.70" height="4.60" rx="1.47" fill="#050505" fill-opacity="1" filter="url(#b)"/>
<rect x="158.65" y="193.00" width="8.30" height="4.00" rx="1.28" fill="#050505" fill-opacity="1" filter="url(#b)"/>
<rect x="167.95" y="193.30" width="8.10" height="3.40" rx="1.09" fill="#050505" fill-opacity="1" filter="url(#b)"/>
<rect x="177.55" y="191.90" width="7.50" height="2.60" rx="0.83" fill="#050505" fill-opacity="1" filter="url(#b)"/>
<rect x="149.75" y="186.50" width="7.70" height="3.00" rx="0.96" fill="#050505" fill-opacity="0.16" filter="url(#b)"/>
<rect x="158.95" y="186.50" width="7.70" height="3.00" rx="0.96" fill="#050505" fill-opacity="0.14" filter="url(#b)"/>
<rect x="168.15" y="186.50" width="7.70" height="3.00" rx="0.96" fill="#050505" fill-opacity="0.1" filter="url(#b)"/>
<rect x="187.45" y="190.10" width="9.50" height="4.80" rx="1.54" fill="#050505" fill-opacity="1" filter="url(#b)"/>
<rect x="197.35" y="190.40" width="8.90" height="4.20" rx="1.34" fill="#050505" fill-opacity="1" filter="url(#b)"/>
<rect x="206.95" y="190.60" width="8.50" height="3.80" rx="1.22" fill="#050505" fill-opacity="1" filter="url(#b)"/>
<rect x="216.65" y="191.10" width="7.90" height="2.80" rx="0.90" fill="#050505" fill-opacity="1" filter="url(#b)"/>
<rect x="188.35" y="184.00" width="7.70" height="3.60" rx="1.15" fill="#050505" fill-opacity="0.1" filter="url(#b)"/>
<rect x="197.95" y="184.00" width="7.70" height="3.60" rx="1.15" fill="#050505" fill-opacity="0.08" filter="url(#b)"/>
<rect x="207.35" y="184.00" width="7.70" height="3.60" rx="1.15" fill="#050505" fill-opacity="0.1" filter="url(#b)"/>
<rect x="216.75" y="184.30" width="7.70" height="3.00" rx="0.96" fill="#050505" fill-opacity="0.05" filter="url(#b)"/>
<rect x="237.15" y="190.40" width="9.50" height="4.40" rx="1.41" fill="#050505" fill-opacity="1" filter="url(#b)"/>
<rect x="246.95" y="190.70" width="8.70" height="3.80" rx="1.22" fill="#050505" fill-opacity="1" filter="url(#b)"/>
<rect x="255.95" y="191.00" width="7.70" height="3.20" rx="1.02" fill="#050505" fill-opacity="1" filter="url(#b)"/>
<rect x="264.55" y="191.40" width="7.30" height="2.40" rx="0.77" fill="#050505" fill-opacity="1" filter="url(#b)"/>
<rect x="281.85" y="191.40" width="9.10" height="4.00" rx="1.28" fill="#050505" fill-opacity="1" filter="url(#b)"/>
<rect x="291.35" y="190.70" width="8.30" height="3.60" rx="1.15" fill="#050505" fill-opacity="1" filter="url(#b)"/>
<rect x="300.15" y="190.60" width="8.50" height="3.40" rx="1.09" fill="#050505" fill-opacity="1" filter="url(#b)"/>
<rect x="310.05" y="190.50" width="8.50" height="2.60" rx="0.83" fill="#050505" fill-opacity="1" filter="url(#b)"/>
<rect x="319.95" y="189.00" width="9.90" height="5.00" rx="1.60" fill="#050505" fill-opacity="1" filter="url(#b)"/>
<rect x="329.95" y="189.40" width="9.30" height="4.20" rx="1.34" fill="#050505" fill-opacity="1" filter="url(#b)"/>
<rect x="339.35" y="189.70" width="8.30" height="3.60" rx="1.15" fill="#050505" fill-opacity="1" filter="url(#b)"/>
<rect x="348.25" y="189.90" width="8.30" height="2.60" rx="0.83" fill="#050505" fill-opacity="1" filter="url(#b)"/>
<rect x="282.55" y="184.30" width="7.70" height="2.60" rx="0.83" fill="#050505" fill-opacity="0.07" filter="url(#b)"/>
<rect x="291.65" y="184.30" width="7.70" height="2.60" rx="0.83" fill="#050505" fill-opacity="0.07" filter="url(#b)"/>
<rect x="300.55" y="184.30" width="7.70" height="2.60" rx="0.83" fill="#050505" fill-opacity="0.07" filter="url(#b)"/>
<rect x="367.95" y="190.80" width="9.70" height="4.60" rx="1.47" fill="#050505" fill-opacity="1" filter="url(#b)"/>
<rect x="377.75" y="191.00" width="9.10" height="4.20" rx="1.34" fill="#050505" fill-opacity="1" filter="url(#b)"/>
<rect x="387.15" y="191.30" width="8.70" height="3.60" rx="1.15" fill="#050505" fill-opacity="1" filter="url(#b)"/>
<rect x="396.95" y="191.70" width="8.10" height="2.80" rx="0.90" fill="#050505" fill-opacity="1" filter="url(#b)"/>
<rect x="368.95" y="184.70" width="7.70" height="2.60" rx="0.83" fill="#050505" fill-opacity="0.08" filter="url(#b)"/>
<rect x="378.45" y="184.70" width="7.70" height="2.60" rx="0.83" fill="#050505" fill-opacity="0.07" filter="url(#b)"/>
<rect x="387.65" y="184.80" width="7.70" height="2.40" rx="0.77" fill="#050505" fill-opacity="0.06" filter="url(#b)"/>
<rect x="397.65" y="185.00" width="6.70" height="2.00" rx="0.64" fill="#050505" fill-opacity="0.04" filter="url(#b)"/>
<rect x="415.05" y="191.70" width="7.50" height="2.20" rx="0.70" fill="#050505" fill-opacity="1" filter="url(#b)"/>
<rect x="424.25" y="191.90" width="6.90" height="1.80" rx="0.58" fill="#050505" fill-opacity="0.38" filter="url(#b)"/>
<rect x="434.05" y="191.90" width="6.90" height="1.80" rx="0.58" fill="#050505" fill-opacity="0.32" filter="url(#b)"/>
<rect x="444.15" y="192.10" width="6.70" height="1.40" rx="0.45" fill="#050505" fill-opacity="0.1" filter="url(#b)"/>
<rect x="14.45" y="211.00" width="6.70" height="2.00" rx="0.64" fill="#050505" fill-opacity="0.05" filter="url(#b)"/>
<rect x="23.95" y="211.00" width="6.70" height="2.00" rx="0.64" fill="#050505" fill-opacity="0.05" filter="url(#b)"/>
<rect x="33.45" y="211.00" width="6.70" height="2.00" rx="0.64" fill="#050505" fill-opacity="0.05" filter="url(#b)"/>
<rect x="42.95" y="211.00" width="6.70" height="2.00" rx="0.64" fill="#050505" fill-opacity="0.05" filter="url(#b)"/>
<rect x="52.35" y="211.10" width="8.30" height="4.40" rx="1.41" fill="#050505" fill-opacity="1" filter="url(#b)"/>
<rect x="62.05" y="211.20" width="8.50" height="4.20" rx="1.34" fill="#050505" fill-opacity="1" filter="url(#b)"/>
<rect x="71.95" y="213.30" width="7.70" height="2.00" rx="0.64" fill="#050505" fill-opacity="0.95" filter="url(#b)"/>
<rect x="81.35" y="213.40" width="7.10" height="1.40" rx="0.45" fill="#050505" fill-opacity="0.3" filter="url(#b)"/>
<rect x="52.35" y="215.60" width="8.30" height="2.80" rx="0.90" fill="#050505" fill-opacity="1" filter="url(#b)"/>
<rect x="62.05" y="215.70" width="8.50" height="2.60" rx="0.83" fill="#050505" fill-opacity="0.95" filter="url(#b)"/>
<rect x="71.95" y="216.80" width="7.70" height="1.80" rx="0.58" fill="#050505" fill-opacity="0.6" filter="url(#b)"/>
<rect x="81.35" y="216.80" width="7.10" height="1.80" rx="0.58" fill="#050505" fill-opacity="0.55" filter="url(#b)"/>
<rect x="52.65" y="219.50" width="7.70" height="6.00" rx="1.92" fill="#050505" fill-opacity="0.05" filter="url(#b)"/>
<rect x="62.45" y="219.50" width="7.70" height="6.00" rx="1.92" fill="#050505" fill-opacity="0.05" filter="url(#b)"/>
<rect x="99.7" y="205.7" width="39.5" height="20.8" fill="#d8d8d8" fill-opacity=".5" filter="url(#b2)"/>
<rect x="99.75" y="214.00" width="9.50" height="4.20" rx="1.34" fill="#050505" fill-opacity="1" filter="url(#b)"/>
<rect x="109.75" y="214.40" width="9.10" height="3.40" rx="1.09" fill="#050505" fill-opacity="1" filter="url(#b)"/>
<rect x="119.35" y="214.30" width="9.30" height="3.60" rx="1.15" fill="#050505" fill-opacity="1" filter="url(#b)"/>
<rect x="129.45" y="214.50" width="9.10" height="3.20" rx="1.02" fill="#050505" fill-opacity="1" filter="url(#b)"/>
<rect x="99.95" y="218.00" width="9.10" height="2.00" rx="0.64" fill="#050505" fill-opacity="0.6" filter="url(#b)"/>
<rect x="109.85" y="218.10" width="8.90" height="1.80" rx="0.58" fill="#050505" fill-opacity="0.5" filter="url(#b)"/>
<rect x="119.55" y="218.10" width="8.90" height="1.80" rx="0.58" fill="#050505" fill-opacity="0.55" filter="url(#b)"/>
<rect x="129.65" y="218.10" width="8.70" height="1.80" rx="0.58" fill="#050505" fill-opacity="0.45" filter="url(#b)"/>
<rect x="100.65" y="222.50" width="7.70" height="3.00" rx="0.96" fill="#050505" fill-opacity="0.05" filter="url(#b)"/>
<rect x="110.45" y="222.50" width="7.70" height="3.00" rx="0.96" fill="#050505" fill-opacity="0.04" filter="url(#b)"/>
<rect x="120.15" y="222.50" width="7.70" height="3.00" rx="0.96" fill="#050505" fill-opacity="0.07" filter="url(#b)"/>
<rect x="130.15" y="222.50" width="7.70" height="3.00" rx="0.96" fill="#050505" fill-opacity="0.05" filter="url(#b)"/>
<rect x="149.35" y="214.60" width="8.50" height="2.80" rx="0.90" fill="#050505" fill-opacity="1" filter="url(#b)"/>
<rect x="158.65" y="214.10" width="8.30" height="2.80" rx="0.90" fill="#050505" fill-opacity="1" filter="url(#b)"/>
<rect x="167.85" y="213.60" width="8.30" height="2.80" rx="0.90" fill="#050505" fill-opacity="1" filter="url(#b)"/>
<rect x="177.15" y="213.20" width="8.30" height="2.80" rx="0.90" fill="#050505" fill-opacity="1" filter="url(#b)"/>
<rect x="187.75" y="219.50" width="8.90" height="3.00" rx="0.96" fill="#050505" fill-opacity="1" filter="url(#b)"/>
<rect x="197.55" y="219.70" width="8.50" height="2.60" rx="0.83" fill="#050505" fill-opacity="1" filter="url(#b)"/>
<rect x="206.95" y="219.70" width="8.50" height="2.60" rx="0.83" fill="#050505" fill-opacity="1" filter="url(#b)"/>
<rect x="216.35" y="219.70" width="8.50" height="2.60" rx="0.83" fill="#050505" fill-opacity="1" filter="url(#b)"/>
<rect x="188.15" y="225.00" width="8.10" height="1.60" rx="0.51" fill="#050505" fill-opacity="0.22" filter="url(#b)"/>
<rect x="197.85" y="225.10" width="7.90" height="1.40" rx="0.45" fill="#050505" fill-opacity="0.15" filter="url(#b)"/>
<rect x="207.25" y="225.10" width="7.90" height="1.40" rx="0.45" fill="#050505" fill-opacity="0.18" filter="url(#b)"/>
<rect x="216.65" y="225.10" width="7.90" height="1.40" rx="0.45" fill="#050505" fill-opacity="0.12" filter="url(#b)"/>
<rect x="235.75" y="214.60" width="9.10" height="3.60" rx="1.15" fill="#050505" fill-opacity="1" filter="url(#b)"/>
<rect x="245.55" y="214.70" width="9.30" height="3.40" rx="1.09" fill="#050505" fill-opacity="1" filter="url(#b)"/>
<rect x="255.45" y="215.30" width="7.70" height="2.20" rx="0.70" fill="#050505" fill-opacity="1" filter="url(#b)"/>
<rect x="265.15" y="215.50" width="7.90" height="1.80" rx="0.58" fill="#050505" fill-opacity="0.5" filter="url(#b)"/>
<rect x="235.75" y="218.40" width="9.10" height="2.60" rx="0.83" fill="#050505" fill-opacity="0.95" filter="url(#b)"/>
<rect x="245.55" y="218.40" width="9.30" height="2.60" rx="0.83" fill="#050505" fill-opacity="0.9" filter="url(#b)"/>
<rect x="255.45" y="218.50" width="7.70" height="1.80" rx="0.58" fill="#050505" fill-opacity="0.75" filter="url(#b)"/>
<rect x="265.15" y="218.50" width="7.90" height="1.80" rx="0.58" fill="#050505" fill-opacity="0.6" filter="url(#b)"/>
<rect x="236.75" y="221.00" width="7.70" height="3.00" rx="0.96" fill="#050505" fill-opacity="0.1" filter="url(#b)"/>
<rect x="246.35" y="221.00" width="7.70" height="3.00" rx="0.96" fill="#050505" fill-opacity="0.1" filter="url(#b)"/>
<rect x="282.45" y="212.00" width="9.10" height="3.40" rx="1.09" fill="#050505" fill-opacity="1" filter="url(#b)"/>
<rect x="291.85" y="212.20" width="8.70" height="3.00" rx="0.96" fill="#050505" fill-opacity="1" filter="url(#b)"/>
<rect x="301.25" y="212.20" width="8.70" height="3.00" rx="0.96" fill="#050505" fill-opacity="1" filter="url(#b)"/>
<rect x="310.75" y="211.30" width="8.70" height="2.80" rx="0.90" fill="#050505" fill-opacity="1" filter="url(#b)"/>
<rect x="282.85" y="216.80" width="8.30" height="1.60" rx="0.51" fill="#050505" fill-opacity="0.35" filter="url(#b)"/>
<rect x="292.15" y="216.90" width="8.10" height="1.40" rx="0.45" fill="#050505" fill-opacity="0.3" filter="url(#b)"/>
<rect x="301.55" y="216.90" width="8.10" height="1.40" rx="0.45" fill="#050505" fill-opacity="0.28" filter="url(#b)"/>
<rect x="311.05" y="216.00" width="8.10" height="1.20" rx="0.38" fill="#050505" fill-opacity="0.2" filter="url(#b)"/>
<rect x="321.25" y="215.50" width="8.50" height="2.80" rx="0.90" fill="#050505" fill-opacity="1" filter="url(#b)"/>
<rect x="330.65" y="215.50" width="8.50" height="2.80" rx="0.90" fill="#050505" fill-opacity="1" filter="url(#b)"/>
<rect x="339.85" y="215.60" width="8.30" height="2.60" rx="0.83" fill="#050505" fill-opacity="1" filter="url(#b)"/>
<rect x="348.85" y="215.60" width="8.30" height="2.60" rx="0.83" fill="#050505" fill-opacity="1" filter="url(#b)"/>
<rect x="321.65" y="220.10" width="7.70" height="1.60" rx="0.51" fill="#050505" fill-opacity="0.28" filter="url(#b)"/>
<rect x="331.05" y="220.10" width="7.70" height="1.60" rx="0.51" fill="#050505" fill-opacity="0.3" filter="url(#b)"/>
<rect x="340.15" y="220.20" width="7.70" height="1.40" rx="0.45" fill="#050505" fill-opacity="0.22" filter="url(#b)"/>
<rect x="349.15" y="220.20" width="7.70" height="1.40" rx="0.45" fill="#050505" fill-opacity="0.22" filter="url(#b)"/>
<rect x="368.05" y="213.70" width="9.50" height="3.60" rx="1.15" fill="#050505" fill-opacity="1" filter="url(#b)"/>
<rect x="377.95" y="213.90" width="8.70" height="3.20" rx="1.02" fill="#050505" fill-opacity="1" filter="url(#b)"/>
<rect x="387.25" y="214.00" width="8.50" height="3.00" rx="0.96" fill="#050505" fill-opacity="1" filter="url(#b)"/>
<rect x="397.05" y="214.40" width="7.90" height="2.20" rx="0.70" fill="#050505" fill-opacity="0.7" filter="url(#b)"/>
<rect x="368.45" y="217.60" width="8.70" height="1.60" rx="0.51" fill="#050505" fill-opacity="0.3" filter="url(#b)"/>
<rect x="378.15" y="217.70" width="8.30" height="1.40" rx="0.45" fill="#050505" fill-opacity="0.22" filter="url(#b)"/>
<rect x="387.35" y="217.70" width="8.30" height="1.40" rx="0.45" fill="#050505" fill-opacity="0.2" filter="url(#b)"/>
<rect x="413" y="205.8" width="39.5" height="20.8" fill="#d2d2d2" fill-opacity=".35" filter="url(#b2)"/>
<rect x="414.5" y="207.0" width="6" height="14" fill="#555" fill-opacity="0.12" filter="url(#b2)"/>
<rect x="424.0" y="210.0" width="6" height="12" fill="#555" fill-opacity="0.08" filter="url(#b2)"/>
<rect x="431.5" y="208.0" width="7" height="14" fill="#555" fill-opacity="0.12" filter="url(#b2)"/>
<rect x="443.0" y="207.0" width="6" height="14" fill="#555" fill-opacity="0.1" filter="url(#b2)"/>
<rect x="416.0" y="221.0" width="8" height="4" fill="#555" fill-opacity="0.08" filter="url(#b2)"/>
<rect x="435.0" y="222.0" width="8" height="4" fill="#555" fill-opacity="0.08" filter="url(#b2)"/>
<rect x="414.15" y="209.70" width="7.70" height="1.80" rx="0.58" fill="#050505" fill-opacity="0.3" filter="url(#b)"/>
<rect x="423.65" y="209.80" width="6.70" height="1.60" rx="0.51" fill="#050505" fill-opacity="0.2" filter="url(#b)"/>
<rect x="429.05" y="208.60" width="10.70" height="2.80" rx="0.90" fill="#050505" fill-opacity="0.75" filter="url(#b2)"/>
<rect x="430.25" y="209.00" width="8.70" height="1.80" rx="0.58" fill="#050505" fill-opacity="0.6" filter="url(#b)"/>
<rect x="441.85" y="208.70" width="8.30" height="2.40" rx="0.77" fill="#050505" fill-opacity="0.6" filter="url(#b)"/>
<rect x="414.15" y="218.00" width="7.70" height="1.60" rx="0.51" fill="#050505" fill-opacity="0.25" filter="url(#b)"/>
<rect x="424.15" y="218.10" width="5.70" height="1.40" rx="0.45" fill="#050505" fill-opacity="0.15" filter="url(#b)"/>
<rect x="442.15" y="218.00" width="7.70" height="1.60" rx="0.51" fill="#050505" fill-opacity="0.25" filter="url(#b)"/>
<rect x="414.15" y="213.90" width="7.70" height="1.40" rx="0.45" fill="#050505" fill-opacity="0.12" filter="url(#b)"/>
<path d="M427.5,224.5 L432,220.5 L436.5,217.5" stroke="#222" stroke-opacity=".45" stroke-width="2.4" fill="none" filter="url(#b2)"/>
<rect x="451.75" y="209.00" width="1.50" height="3.00" rx="0.75" fill="#050505" fill-opacity="0.35" filter="url(#b)"/>
<rect x="451.75" y="217.00" width="1.50" height="3.00" rx="0.75" fill="#050505" fill-opacity="0.35" filter="url(#b)"/>
<rect x="11.35" y="238.40" width="9.30" height="3.00" rx="0.96" fill="#050505" fill-opacity="1" filter="url(#b)"/>
<rect x="21.55" y="238.40" width="8.50" height="3.00" rx="0.96" fill="#050505" fill-opacity="1" filter="url(#b)"/>
<rect x="30.85" y="238.00" width="9.10" height="3.00" rx="0.96" fill="#050505" fill-opacity="1" filter="url(#b)"/>
<rect x="40.85" y="237.80" width="9.10" height="3.00" rx="0.96" fill="#050505" fill-opacity="1" filter="url(#b)"/>
<rect x="51.55" y="237.90" width="9.30" height="2.80" rx="0.90" fill="#050505" fill-opacity="1" filter="url(#b)"/>
<rect x="62.45" y="238.20" width="8.50" height="2.80" rx="0.90" fill="#050505" fill-opacity="1" filter="url(#b)"/>
<rect x="72.45" y="238.40" width="8.70" height="3.00" rx="0.96" fill="#050505" fill-opacity="1" filter="url(#b)"/>
<rect x="81.75" y="238.40" width="8.50" height="3.00" rx="0.96" fill="#050505" fill-opacity="1" filter="url(#b)"/>
<rect x="100.15" y="237.50" width="8.70" height="2.60" rx="0.83" fill="#050505" fill-opacity="1" filter="url(#b)"/>
<rect x="110.05" y="237.60" width="8.50" height="2.40" rx="0.77" fill="#050505" fill-opacity="1" filter="url(#b)"/>
<rect x="119.75" y="237.60" width="8.50" height="2.40" rx="0.77" fill="#050505" fill-opacity="1" filter="url(#b)"/>
<rect x="129.75" y="237.60" width="8.50" height="2.40" rx="0.77" fill="#050505" fill-opacity="1" filter="url(#b)"/>
<path d="M100,243.5 Q106,247.5 116,247" stroke="#333" stroke-opacity=".22" stroke-width="2.2" fill="none" filter="url(#b2)"/>
<rect x="149.15" y="239.10" width="8.90" height="3.00" rx="0.96" fill="#050505" fill-opacity="1" filter="url(#b)"/>
<rect x="158.45" y="238.70" width="8.70" height="3.00" rx="0.96" fill="#050505" fill-opacity="1" filter="url(#b)"/>
<rect x="167.65" y="238.20" width="8.70" height="3.00" rx="0.96" fill="#050505" fill-opacity="1" filter="url(#b)"/>
<rect x="176.95" y="237.60" width="8.70" height="3.00" rx="0.96" fill="#050505" fill-opacity="1" filter="url(#b)"/>
<rect x="187.75" y="237.40" width="8.90" height="3.00" rx="0.96" fill="#050505" fill-opacity="1" filter="url(#b)"/>
<rect x="197.45" y="237.40" width="8.70" height="3.00" rx="0.96" fill="#050505" fill-opacity="1" filter="url(#b)"/>
<rect x="206.85" y="237.40" width="8.70" height="3.00" rx="0.96" fill="#050505" fill-opacity="1" filter="url(#b)"/>
<rect x="215.95" y="237.30" width="9.30" height="3.20" rx="1.02" fill="#050505" fill-opacity="1" filter="url(#b)"/>
<rect x="236.15" y="236.30" width="8.90" height="3.00" rx="0.96" fill="#050505" fill-opacity="1" filter="url(#b)"/>
<rect x="245.85" y="236.30" width="8.70" height="3.00" rx="0.96" fill="#050505" fill-opacity="1" filter="url(#b)"/>
<rect x="255.65" y="236.30" width="8.70" height="3.00" rx="0.96" fill="#050505" fill-opacity="1" filter="url(#b)"/>
<rect x="265.25" y="236.30" width="8.70" height="3.00" rx="0.96" fill="#050505" fill-opacity="1" filter="url(#b)"/>
<rect x="246.85" y="230.80" width="6.70" height="1.20" rx="0.38" fill="#050505" fill-opacity="0.2" filter="url(#b)"/>
<rect x="256.15" y="230.70" width="7.70" height="1.40" rx="0.45" fill="#050505" fill-opacity="0.35" filter="url(#b)"/>
<rect x="265.75" y="230.70" width="7.70" height="1.40" rx="0.45" fill="#050505" fill-opacity="0.4" filter="url(#b)"/>
<rect x="282.55" y="237.40" width="8.90" height="3.00" rx="0.96" fill="#050505" fill-opacity="1" filter="url(#b)"/>
<rect x="291.85" y="237.40" width="8.70" height="3.00" rx="0.96" fill="#050505" fill-opacity="1" filter="url(#b)"/>
<rect x="301.15" y="237.40" width="8.90" height="3.00" rx="0.96" fill="#050505" fill-opacity="1" filter="url(#b)"/>
<rect x="310.55" y="236.90" width="9.10" height="3.20" rx="1.02" fill="#050505" fill-opacity="1" filter="url(#b)"/>
<rect x="321.05" y="236.80" width="8.90" height="3.00" rx="0.96" fill="#050505" fill-opacity="1" filter="url(#b)"/>
<rect x="330.55" y="237.20" width="8.70" height="3.00" rx="0.96" fill="#050505" fill-opacity="1" filter="url(#b)"/>
<rect x="339.75" y="237.50" width="8.50" height="2.80" rx="0.90" fill="#050505" fill-opacity="1" filter="url(#b)"/>
<rect x="348.45" y="237.20" width="9.10" height="3.40" rx="1.09" fill="#050505" fill-opacity="1" filter="url(#b)"/>
<rect x="355.50" y="233.00" width="3.00" height="3.00" rx="0.96" fill="#050505" fill-opacity="0.4" filter="url(#b)"/>
<rect x="368.15" y="237.30" width="9.30" height="3.00" rx="0.96" fill="#050505" fill-opacity="1" filter="url(#b)"/>
<rect x="377.95" y="237.40" width="8.70" height="2.80" rx="0.90" fill="#050505" fill-opacity="1" filter="url(#b)"/>
<rect x="386.95" y="237.30" width="9.10" height="3.00" rx="0.96" fill="#050505" fill-opacity="1" filter="url(#b)"/>
<rect x="396.35" y="237.10" width="9.30" height="3.40" rx="1.09" fill="#050505" fill-opacity="1" filter="url(#b)"/>
<rect x="414.65" y="236.70" width="8.30" height="2.20" rx="0.70" fill="#050505" fill-opacity="1" filter="url(#b)"/>
<rect x="423.75" y="236.80" width="7.90" height="2.00" rx="0.64" fill="#050505" fill-opacity="1" filter="url(#b)"/>
<rect x="433.55" y="236.80" width="7.90" height="2.00" rx="0.64" fill="#050505" fill-opacity="1" filter="url(#b)"/>
<rect x="443.35" y="236.70" width="8.30" height="2.20" rx="0.70" fill="#050505" fill-opacity="1" filter="url(#b)"/>
<path d="M414.5,243.8 Q419,242.2 426.5,243.4" stroke="#222" stroke-opacity=".45" stroke-width="2.8" fill="none" filter="url(#b2)"/>
<g fill="#111">
<text x="8.00" y="23.80" font-size="10.5" text-anchor="start" font-weight="bold" stroke="#111" stroke-width="0.12" >A</text>
<text x="26.40" y="39.70" font-size="7.8" stroke="#111" stroke-width="0.12" transform="rotate(-45 26.40 39.70)">GFP</text>
<text x="69.50" y="39.70" font-size="7.8" stroke="#111" stroke-width="0.12" transform="rotate(-45 69.50 39.70)">WT</text>
<text x="114.70" y="39.90" font-size="7.8" stroke="#111" stroke-width="0.12" transform="rotate(-45 114.70 39.90)">Q640_splice</text>
<text x="161.30" y="39.50" font-size="7.8" stroke="#111" stroke-width="0.12" transform="rotate(-45 161.30 39.50)">R723del</text>
<text x="200.70" y="39.50" font-size="7.8" stroke="#111" stroke-width="0.12" transform="rotate(-45 200.70 39.50)">V641_splice</text>
<text x="245.90" y="39.50" font-size="7.8" stroke="#111" stroke-width="0.12" transform="rotate(-45 245.90 39.50)">V641F</text>
<text x="293.00" y="39.50" font-size="7.8" stroke="#111" stroke-width="0.12" transform="rotate(-45 293.00 39.50)">S672N</text>
<text x="331.80" y="39.50" font-size="7.8" stroke="#111" stroke-width="0.12" transform="rotate(-45 331.80 39.50)">N763Kfs*12</text>
<text x="378.00" y="39.50" font-size="7.8" stroke="#111" stroke-width="0.12" transform="rotate(-45 378.00 39.50)">X780_splice</text>
<text x="425.70" y="39.50" font-size="7.8" stroke="#111" stroke-width="0.12" transform="rotate(-45 425.70 39.50)">N799K</text>
<rect x="8.20" y="42.50" width="42.10" height="1.4" fill="#5c5c5c"/>
<rect x="52.30" y="42.50" width="44.20" height="1.4" fill="#5c5c5c"/>
<rect x="97.20" y="42.50" width="44.70" height="1.4" fill="#5c5c5c"/>
<rect x="143.80" y="42.50" width="40.40" height="1.4" fill="#5c5c5c"/>
<rect x="186.20" y="42.50" width="40.40" height="1.4" fill="#5c5c5c"/>
<rect x="228.80" y="42.50" width="43.30" height="1.4" fill="#5c5c5c"/>
<rect x="275.40" y="42.50" width="39.00" height="1.4" fill="#5c5c5c"/>
<rect x="316.80" y="42.50" width="40.30" height="1.4" fill="#5c5c5c"/>
<rect x="359.60" y="42.50" width="44.60" height="1.4" fill="#5c5c5c"/>
<rect x="406.70" y="42.50" width="44.30" height="1.4" fill="#5c5c5c"/>
<text x="16.00" y="52.00" font-size="7.0" text-anchor="middle" font-weight="normal" stroke="#111" stroke-width="0.12" >0</text>
<text x="25.90" y="52.00" font-size="7.0" text-anchor="middle" font-weight="normal" stroke="#111" stroke-width="0.12" >1</text>
<text x="36.00" y="52.00" font-size="7.0" text-anchor="middle" font-weight="normal" stroke="#111" stroke-width="0.12" >2</text>
<text x="45.20" y="52.00" font-size="7.0" text-anchor="middle" font-weight="normal" stroke="#111" stroke-width="0.12" >4</text>
<text x="59.60" y="52.00" font-size="7.0" text-anchor="middle" font-weight="normal" stroke="#111" stroke-width="0.12" >0</text>
<text x="69.20" y="52.00" font-size="7.0" text-anchor="middle" font-weight="normal" stroke="#111" stroke-width="0.12" >1</text>
<text x="79.30" y="52.00" font-size="7.0" text-anchor="middle" font-weight="normal" stroke="#111" stroke-width="0.12" >2</text>
<text x="89.00" y="52.00" font-size="7.0" text-anchor="middle" font-weight="normal" stroke="#111" stroke-width="0.12" >4</text>
<text x="103.20" y="52.00" font-size="7.0" text-anchor="middle" font-weight="normal" stroke="#111" stroke-width="0.12" >0</text>
<text x="112.30" y="52.00" font-size="7.0" text-anchor="middle" font-weight="normal" stroke="#111" stroke-width="0.12" >1</text>
<text x="122.40" y="52.00" font-size="7.0" text-anchor="middle" font-weight="normal" stroke="#111" stroke-width="0.12" >2</text>
<text x="132.30" y="52.00" font-size="7.0" text-anchor="middle" font-weight="normal" stroke="#111" stroke-width="0.12" >4</text>
<text x="150.80" y="52.00" font-size="7.0" text-anchor="middle" font-weight="normal" stroke="#111" stroke-width="0.12" >0</text>
<text x="160.20" y="52.00" font-size="7.0" text-anchor="middle" font-weight="normal" stroke="#111" stroke-width="0.12" >1</text>
<text x="170.50" y="52.00" font-size="7.0" text-anchor="middle" font-weight="normal" stroke="#111" stroke-width="0.12" >2</text>
<text x="179.90" y="52.00" font-size="7.0" text-anchor="middle" font-weight="normal" stroke="#111" stroke-width="0.12" >4</text>
<text x="190.80" y="52.00" font-size="7.0" text-anchor="middle" font-weight="normal" stroke="#111" stroke-width="0.12" >0</text>
<text x="200.30" y="52.00" font-size="7.0" text-anchor="middle" font-weight="normal" stroke="#111" stroke-width="0.12" >1</text>
<text x="210.50" y="52.00" font-size="7.0" text-anchor="middle" font-weight="normal" stroke="#111" stroke-width="0.12" >2</text>
<text x="219.90" y="52.00" font-size="7.0" text-anchor="middle" font-weight="normal" stroke="#111" stroke-width="0.12" >4</text>
<text x="233.80" y="52.00" font-size="7.0" text-anchor="middle" font-weight="normal" stroke="#111" stroke-width="0.12" >0</text>
<text x="243.40" y="52.00" font-size="7.0" text-anchor="middle" font-weight="normal" stroke="#111" stroke-width="0.12" >1</text>
<text x="253.50" y="52.00" font-size="7.0" text-anchor="middle" font-weight="normal" stroke="#111" stroke-width="0.12" >2</text>
<text x="262.90" y="52.00" font-size="7.0" text-anchor="middle" font-weight="normal" stroke="#111" stroke-width="0.12" >4</text>
<text x="281.20" y="52.00" font-size="7.0" text-anchor="middle" font-weight="normal" stroke="#111" stroke-width="0.12" >0</text>
<text x="291.20" y="52.00" font-size="7.0" text-anchor="middle" font-weight="normal" stroke="#111" stroke-width="0.12" >1</text>
<text x="300.80" y="52.00" font-size="7.0" text-anchor="middle" font-weight="normal" stroke="#111" stroke-width="0.12" >2</text>
<text x="310.20" y="52.00" font-size="7.0" text-anchor="middle" font-weight="normal" stroke="#111" stroke-width="0.12" >4</text>
<text x="321.30" y="52.00" font-size="7.0" text-anchor="middle" font-weight="normal" stroke="#111" stroke-width="0.12" >0</text>
<text x="331.80" y="52.00" font-size="7.0" text-anchor="middle" font-weight="normal" stroke="#111" stroke-width="0.12" >1</text>
<text x="341.00" y="52.00" font-size="7.0" text-anchor="middle" font-weight="normal" stroke="#111" stroke-width="0.12" >2</text>
<text x="350.40" y="52.00" font-size="7.0" text-anchor="middle" font-weight="normal" stroke="#111" stroke-width="0.12" >4</text>
<text x="366.70" y="52.00" font-size="7.0" text-anchor="middle" font-weight="normal" stroke="#111" stroke-width="0.12" >0</text>
<text x="375.90" y="52.00" font-size="7.0" text-anchor="middle" font-weight="normal" stroke="#111" stroke-width="0.12" >1</text>
<text x="386.40" y="52.00" font-size="7.0" text-anchor="middle" font-weight="normal" stroke="#111" stroke-width="0.12" >2</text>
<text x="395.80" y="52.00" font-size="7.0" text-anchor="middle" font-weight="normal" stroke="#111" stroke-width="0.12" >4</text>
<text x="414.80" y="52.00" font-size="7.0" text-anchor="middle" font-weight="normal" stroke="#111" stroke-width="0.12" >0</text>
<text x="424.60" y="52.00" font-size="7.0" text-anchor="middle" font-weight="normal" stroke="#111" stroke-width="0.12" >1</text>
<text x="434.20" y="52.00" font-size="7.0" text-anchor="middle" font-weight="normal" stroke="#111" stroke-width="0.12" >2</text>
<text x="444.10" y="52.00" font-size="7.0" text-anchor="middle" font-weight="normal" stroke="#111" stroke-width="0.12" >4</text>
<text x="455.40" y="52.80" font-size="7.5" text-anchor="start" font-weight="normal" stroke="#111" stroke-width="0.12" >Hours (CHX)</text>
<text x="455.60" y="65.30" font-size="7.5" text-anchor="start" font-weight="normal" stroke="#111" stroke-width="0.12" >BCL6</text>
<text x="455.60" y="82.60" font-size="7.5" text-anchor="start" font-weight="normal" stroke="#111" stroke-width="0.12" >FBXO11</text>
<text x="455.60" y="101.00" font-size="7.5" text-anchor="start" font-weight="normal" stroke="#111" stroke-width="0.12" >β-actin</text>
<text x="455.60" y="119.40" font-size="7.5" text-anchor="start" font-weight="normal" stroke="#111" stroke-width="0.12" >GFP</text>
<text x="8.40" y="157.00" font-size="10.5" text-anchor="start" font-weight="bold" stroke="#111" stroke-width="0.12" >B</text>
<text x="30.50" y="167.60" font-size="7.8" stroke="#111" stroke-width="0.12" transform="rotate(-45 30.50 167.60)">GFP</text>
<text x="69.90" y="167.60" font-size="7.8" stroke="#111" stroke-width="0.12" transform="rotate(-45 69.90 167.60)">WT</text>
<text x="116.80" y="167.50" font-size="7.8" stroke="#111" stroke-width="0.12" transform="rotate(-45 116.80 167.50)">Q640_splice</text>
<text x="163.00" y="167.80" font-size="7.8" stroke="#111" stroke-width="0.12" transform="rotate(-45 163.00 167.80)">R723del</text>
<text x="204.90" y="167.50" font-size="7.8" stroke="#111" stroke-width="0.12" transform="rotate(-45 204.90 167.50)">V641_splice</text>
<text x="250.10" y="167.50" font-size="7.8" stroke="#111" stroke-width="0.12" transform="rotate(-45 250.10 167.50)">V641F</text>
<text x="295.90" y="167.50" font-size="7.8" stroke="#111" stroke-width="0.12" transform="rotate(-45 295.90 167.50)">S672N</text>
<text x="338.20" y="167.80" font-size="7.8" stroke="#111" stroke-width="0.12" transform="rotate(-45 338.20 167.80)">N763Kfs*12</text>
<text x="384.70" y="167.80" font-size="7.8" stroke="#111" stroke-width="0.12" transform="rotate(-45 384.70 167.80)">X780_splice</text>
<text x="429.90" y="167.50" font-size="7.8" stroke="#111" stroke-width="0.12" transform="rotate(-45 429.90 167.50)">N799K</text>
<rect x="9.20" y="170.30" width="42.30" height="1.4" fill="#5c5c5c"/>
<rect x="53.50" y="170.30" width="42.30" height="1.4" fill="#5c5c5c"/>
<rect x="97.90" y="170.30" width="42.90" height="1.4" fill="#5c5c5c"/>
<rect x="144.00" y="170.30" width="41.80" height="1.4" fill="#5c5c5c"/>
<rect x="188.80" y="170.30" width="42.40" height="1.4" fill="#5c5c5c"/>
<rect x="233.10" y="170.30" width="42.30" height="1.4" fill="#5c5c5c"/>
<rect x="277.90" y="170.30" width="41.30" height="1.4" fill="#5c5c5c"/>
<rect x="322.10" y="170.30" width="41.70" height="1.4" fill="#5c5c5c"/>
<rect x="367.70" y="170.30" width="41.30" height="1.4" fill="#5c5c5c"/>
<rect x="411.90" y="170.30" width="41.90" height="1.4" fill="#5c5c5c"/>
<text x="17.30" y="180.00" font-size="7.0" text-anchor="middle" font-weight="normal" stroke="#111" stroke-width="0.12" >0</text>
<text x="26.90" y="180.00" font-size="7.0" text-anchor="middle" font-weight="normal" stroke="#111" stroke-width="0.12" >1</text>
<text x="36.50" y="180.00" font-size="7.0" text-anchor="middle" font-weight="normal" stroke="#111" stroke-width="0.12" >2</text>
<text x="46.20" y="180.00" font-size="7.0" text-anchor="middle" font-weight="normal" stroke="#111" stroke-width="0.12" >4</text>
<text x="59.20" y="180.00" font-size="7.0" text-anchor="middle" font-weight="normal" stroke="#111" stroke-width="0.12" >0</text>
<text x="68.50" y="180.00" font-size="7.0" text-anchor="middle" font-weight="normal" stroke="#111" stroke-width="0.12" >1</text>
<text x="78.80" y="180.00" font-size="7.0" text-anchor="middle" font-weight="normal" stroke="#111" stroke-width="0.12" >2</text>
<text x="88.50" y="180.00" font-size="7.0" text-anchor="middle" font-weight="normal" stroke="#111" stroke-width="0.12" >4</text>
<text x="105.60" y="180.00" font-size="7.0" text-anchor="middle" font-weight="normal" stroke="#111" stroke-width="0.12" >0</text>
<text x="115.20" y="180.00" font-size="7.0" text-anchor="middle" font-weight="normal" stroke="#111" stroke-width="0.12" >1</text>
<text x="124.70" y="180.00" font-size="7.0" text-anchor="middle" font-weight="normal" stroke="#111" stroke-width="0.12" >2</text>
<text x="134.00" y="180.00" font-size="7.0" text-anchor="middle" font-weight="normal" stroke="#111" stroke-width="0.12" >4</text>
<text x="151.90" y="180.00" font-size="7.0" text-anchor="middle" font-weight="normal" stroke="#111" stroke-width="0.12" >0</text>
<text x="161.50" y="180.00" font-size="7.0" text-anchor="middle" font-weight="normal" stroke="#111" stroke-width="0.12" >1</text>
<text x="171.70" y="180.00" font-size="7.0" text-anchor="middle" font-weight="normal" stroke="#111" stroke-width="0.12" >2</text>
<text x="181.50" y="180.00" font-size="7.0" text-anchor="middle" font-weight="normal" stroke="#111" stroke-width="0.12" >4</text>
<text x="193.00" y="180.00" font-size="7.0" text-anchor="middle" font-weight="normal" stroke="#111" stroke-width="0.12" >0</text>
<text x="203.50" y="180.00" font-size="7.0" text-anchor="middle" font-weight="normal" stroke="#111" stroke-width="0.12" >1</text>
<text x="213.30" y="180.00" font-size="7.0" text-anchor="middle" font-weight="normal" stroke="#111" stroke-width="0.12" >2</text>
<text x="222.30" y="180.00" font-size="7.0" text-anchor="middle" font-weight="normal" stroke="#111" stroke-width="0.12" >4</text>
<text x="240.50" y="180.00" font-size="7.0" text-anchor="middle" font-weight="normal" stroke="#111" stroke-width="0.12" >0</text>
<text x="249.60" y="180.00" font-size="7.0" text-anchor="middle" font-weight="normal" stroke="#111" stroke-width="0.12" >1</text>
<text x="259.80" y="180.00" font-size="7.0" text-anchor="middle" font-weight="normal" stroke="#111" stroke-width="0.12" >2</text>
<text x="269.50" y="180.00" font-size="7.0" text-anchor="middle" font-weight="normal" stroke="#111" stroke-width="0.12" >4</text>
<text x="284.90" y="180.00" font-size="7.0" text-anchor="middle" font-weight="normal" stroke="#111" stroke-width="0.12" >0</text>
<text x="294.50" y="180.00" font-size="7.0" text-anchor="middle" font-weight="normal" stroke="#111" stroke-width="0.12" >1</text>
<text x="304.40" y="180.00" font-size="7.0" text-anchor="middle" font-weight="normal" stroke="#111" stroke-width="0.12" >2</text>
<text x="314.20" y="180.00" font-size="7.0" text-anchor="middle" font-weight="normal" stroke="#111" stroke-width="0.12" >4</text>
<text x="325.10" y="180.00" font-size="7.0" text-anchor="middle" font-weight="normal" stroke="#111" stroke-width="0.12" >0</text>
<text x="335.60" y="180.00" font-size="7.0" text-anchor="middle" font-weight="normal" stroke="#111" stroke-width="0.12" >1</text>
<text x="345.60" y="180.00" font-size="7.0" text-anchor="middle" font-weight="normal" stroke="#111" stroke-width="0.12" >2</text>
<text x="355.60" y="180.00" font-size="7.0" text-anchor="middle" font-weight="normal" stroke="#111" stroke-width="0.12" >4</text>
<text x="373.50" y="180.00" font-size="7.0" text-anchor="middle" font-weight="normal" stroke="#111" stroke-width="0.12" >0</text>
<text x="383.10" y="180.00" font-size="7.0" text-anchor="middle" font-weight="normal" stroke="#111" stroke-width="0.12" >1</text>
<text x="393.10" y="180.00" font-size="7.0" text-anchor="middle" font-weight="normal" stroke="#111" stroke-width="0.12" >2</text>
<text x="403.20" y="180.00" font-size="7.0" text-anchor="middle" font-weight="normal" stroke="#111" stroke-width="0.12" >4</text>
<text x="417.30" y="180.00" font-size="7.0" text-anchor="middle" font-weight="normal" stroke="#111" stroke-width="0.12" >0</text>
<text x="426.50" y="180.00" font-size="7.0" text-anchor="middle" font-weight="normal" stroke="#111" stroke-width="0.12" >1</text>
<text x="436.70" y="180.00" font-size="7.0" text-anchor="middle" font-weight="normal" stroke="#111" stroke-width="0.12" >2</text>
<text x="446.60" y="180.00" font-size="7.0" text-anchor="middle" font-weight="normal" stroke="#111" stroke-width="0.12" >4</text>
<text x="457.90" y="181.40" font-size="7.5" text-anchor="start" font-weight="normal" stroke="#111" stroke-width="0.12" >Hours (CHX)</text>
<text x="457.90" y="196.90" font-size="7.5" text-anchor="start" font-weight="normal" stroke="#111" stroke-width="0.12" >SNAIL</text>
<text x="457.90" y="220.50" font-size="7.5" text-anchor="start" font-weight="normal" stroke="#111" stroke-width="0.12" >FBXO11</text>
<text x="457.90" y="242.00" font-size="7.5" text-anchor="start" font-weight="normal" stroke="#111" stroke-width="0.12" >β-actin</text>
</g>
<text x="8.00" y="283.00" font-size="10.5" text-anchor="start" font-weight="bold" stroke="#111" stroke-width="0.12" >C</text>
<path d="M38.30,282.00 V380.80 H179.20" stroke="#1a1a1a" stroke-width="1.25" fill="none"/>
<path d="M35.90,380.80 H38.30" stroke="#1a1a1a" stroke-width="1.15"/>
<text x="33.90" y="383.50" font-size="7.8" text-anchor="end" font-weight="normal" stroke="#111" stroke-width="0.12" >0</text>
<path d="M35.90,364.48 H38.30" stroke="#1a1a1a" stroke-width="1.15"/>
<text x="33.90" y="367.18" font-size="7.8" text-anchor="end" font-weight="normal" stroke="#111" stroke-width="0.12" >20</text>
<path d="M35.90,348.16 H38.30" stroke="#1a1a1a" stroke-width="1.15"/>
<text x="33.90" y="350.86" font-size="7.8" text-anchor="end" font-weight="normal" stroke="#111" stroke-width="0.12" >40</text>
<path d="M35.90,331.84 H38.30" stroke="#1a1a1a" stroke-width="1.15"/>
<text x="33.90" y="334.54" font-size="7.8" text-anchor="end" font-weight="normal" stroke="#111" stroke-width="0.12" >60</text>
<path d="M35.90,315.52 H38.30" stroke="#1a1a1a" stroke-width="1.15"/>
<text x="33.90" y="318.22" font-size="7.8" text-anchor="end" font-weight="normal" stroke="#111" stroke-width="0.12" >80</text>
<path d="M35.90,299.20 H38.30" stroke="#1a1a1a" stroke-width="1.15"/>
<text x="33.90" y="301.90" font-size="7.8" text-anchor="end" font-weight="normal" stroke="#111" stroke-width="0.12" >100</text>
<path d="M35.90,282.88 H38.30" stroke="#1a1a1a" stroke-width="1.15"/>
<path d="M38.30,380.80 V383.30" stroke="#1a1a1a" stroke-width="1.15"/>
<text x="38.30" y="392.80" font-size="7.3" text-anchor="middle" font-weight="normal" stroke="#111" stroke-width="0.12" >0</text>
<path d="M73.30,380.80 V383.30" stroke="#1a1a1a" stroke-width="1.15"/>
<text x="73.30" y="392.80" font-size="7.3" text-anchor="middle" font-weight="normal" stroke="#111" stroke-width="0.12" >1</text>
<path d="M108.40,380.80 V383.30" stroke="#1a1a1a" stroke-width="1.15"/>
<text x="108.40" y="392.80" font-size="7.3" text-anchor="middle" font-weight="normal" stroke="#111" stroke-width="0.12" >2</text>
<path d="M143.50,380.80 V383.30" stroke="#1a1a1a" stroke-width="1.15"/>
<text x="143.50" y="392.80" font-size="7.3" text-anchor="middle" font-weight="normal" stroke="#111" stroke-width="0.12" >3</text>
<path d="M178.60,380.80 V383.30" stroke="#1a1a1a" stroke-width="1.15"/>
<text x="178.60" y="392.80" font-size="7.3" text-anchor="middle" font-weight="normal" stroke="#111" stroke-width="0.12" >4</text>
<text font-size="8.9" text-anchor="middle" stroke="#111" stroke-width="0.3" transform="translate(108.45,404.10) scale(0.68,1)">Hours (CHX)</text>
<text font-size="9.4" text-anchor="middle" stroke="#111" stroke-width="0.3" transform="translate(16.40,331.80) rotate(-90) scale(0.64,1)">BCL6 Percentage</text>
<path d="M38.30,299.20 L73.30,368.50 L108.40,378.00 L178.60,379.50" stroke="#ec008c" stroke-width="1.5" fill="none" stroke-linejoin="round"/>
<path d="M73.30,365.45 L76.35,368.50 L73.30,371.55 L70.25,368.50Z" fill="#ec008c"/>
<path d="M108.40,374.95 L111.45,378.00 L108.40,381.05 L105.35,378.00Z" fill="#ec008c"/>
<path d="M178.60,376.45 L181.65,379.50 L178.60,382.55 L175.55,379.50Z" fill="#ec008c"/>
<path d="M38.30,299.20 L73.30,345.70 L108.40,379.80 L178.60,380.60" stroke="#164c85" stroke-width="1.5" fill="none" stroke-linejoin="round"/>
<rect x="70.86" y="343.26" width="4.88" height="4.88" fill="#164c85"/>
<rect x="105.96" y="377.36" width="4.88" height="4.88" fill="#164c85"/>
<rect x="176.16" y="378.16" width="4.88" height="4.88" fill="#164c85"/>
<path d="M38.30,299.20 L73.30,306.00 L108.40,321.40 L178.60,343.80" stroke="#29abe2" stroke-width="1.5" fill="none" stroke-linejoin="round"/>
<path d="M73.30,309.05 L76.35,303.71 L70.25,303.71Z" fill="#29abe2"/>
<path d="M108.40,324.45 L111.45,319.11 L105.35,319.11Z" fill="#29abe2"/>
<path d="M178.60,346.85 L181.65,341.51 L175.55,341.51Z" fill="#29abe2"/>
<path d="M38.30,299.20 L73.30,320.40 L108.40,325.00 L178.60,340.90" stroke="#c8102e" stroke-width="1.5" fill="none" stroke-linejoin="round"/>
<circle cx="73.30" cy="320.40" r="2.56" fill="#c8102e"/>
<circle cx="108.40" cy="325.00" r="2.56" fill="#c8102e"/>
<circle cx="178.60" cy="340.90" r="2.56" fill="#c8102e"/>
<path d="M38.30,299.20 L73.30,302.80 L108.40,326.20 L178.60,345.00" stroke="#9a8fd3" stroke-width="1.5" fill="none" stroke-linejoin="round"/>
<rect x="70.86" y="300.36" width="4.88" height="4.88" fill="#9a8fd3"/>
<rect x="105.96" y="323.76" width="4.88" height="4.88" fill="#9a8fd3"/>
<rect x="176.16" y="342.56" width="4.88" height="4.88" fill="#9a8fd3"/>
<path d="M38.30,299.20 L73.30,300.20 L108.40,301.40 L178.60,327.50" stroke="#2c3b50" stroke-width="1.5" fill="none" stroke-linejoin="round"/>
<path d="M73.30,297.15 L76.35,302.49 L70.25,302.49Z" fill="#2c3b50"/>
<path d="M108.40,298.35 L111.45,303.69 L105.35,303.69Z" fill="#2c3b50"/>
<path d="M178.60,324.45 L181.65,329.79 L175.55,329.79Z" fill="#2c3b50"/>
<path d="M38.30,299.20 L73.30,294.60 L108.40,320.20 L178.60,332.90" stroke="#5a2a82" stroke-width="1.5" fill="none" stroke-linejoin="round"/>
<path d="M73.30,297.65 L76.35,292.31 L70.25,292.31Z" fill="#5a2a82"/>
<path d="M108.40,323.25 L111.45,317.91 L105.35,317.91Z" fill="#5a2a82"/>
<path d="M178.60,335.95 L181.65,330.61 L175.55,330.61Z" fill="#5a2a82"/>
<path d="M38.30,299.20 L73.30,297.00 L108.40,308.30 L178.60,319.50" stroke="#00704a" stroke-width="1.5" fill="none" stroke-linejoin="round"/>
<circle cx="73.30" cy="297.00" r="2.56" fill="#00704a"/>
<circle cx="108.40" cy="308.30" r="2.56" fill="#00704a"/>
<circle cx="178.60" cy="319.50" r="2.56" fill="#00704a"/>
<path d="M38.30,299.20 L73.30,291.00 L108.40,297.70 L178.60,303.40" stroke="#f7941d" stroke-width="1.5" fill="none" stroke-linejoin="round"/>
<path d="M73.30,287.95 L76.35,291.00 L73.30,294.05 L70.25,291.00Z" fill="#f7941d"/>
<path d="M108.40,294.65 L111.45,297.70 L108.40,300.75 L105.35,297.70Z" fill="#f7941d"/>
<path d="M178.60,300.35 L181.65,303.40 L178.60,306.45 L175.55,303.40Z" fill="#f7941d"/>
<path d="M38.30,299.20 L73.30,296.00 L108.40,298.60 L178.60,306.00" stroke="#3cb64a" stroke-width="1.5" fill="none" stroke-linejoin="round"/>
<path d="M73.30,292.95 L76.35,298.29 L70.25,298.29Z" fill="#3cb64a"/>
<path d="M108.40,295.55 L111.45,300.89 L105.35,300.89Z" fill="#3cb64a"/>
<path d="M178.60,302.95 L181.65,308.29 L175.55,308.29Z" fill="#3cb64a"/>
<path d="M73.30,308.65 L76.35,303.31 L70.25,303.31Z" fill="#5a2a82"/>
<circle cx="38.30" cy="299.20" r="2.7" fill="#1b4f78"/>
<path d="M189.80,290.40 H199.20" stroke="#c8102e" stroke-width="1.7"/>
<circle cx="194.50" cy="290.40" r="1.99" fill="#c8102e"/>
<text x="202.30" y="292.90" font-size="6.8" text-anchor="start" font-weight="normal" stroke="#111" stroke-width="0.18" >GFP</text>
<path d="M189.80,298.82 H199.20" stroke="#164c85" stroke-width="1.7"/>
<rect x="192.60" y="296.92" width="3.80" height="3.80" fill="#164c85"/>
<text x="202.30" y="301.32" font-size="6.8" text-anchor="start" font-weight="normal" stroke="#111" stroke-width="0.18" >WT</text>
<path d="M189.80,307.24 H199.20" stroke="#3cb64a" stroke-width="1.7"/>
<path d="M194.50,304.86 L196.88,309.02 L192.12,309.02Z" fill="#3cb64a"/>
<text x="202.30" y="309.74" font-size="6.8" text-anchor="start" font-weight="normal" stroke="#111" stroke-width="0.18" >Q640_splice</text>
<path d="M189.80,315.66 H199.20" stroke="#5a2a82" stroke-width="1.7"/>
<path d="M194.50,318.03 L196.88,313.88 L192.12,313.88Z" fill="#5a2a82"/>
<text x="202.30" y="318.16" font-size="6.8" text-anchor="start" font-weight="normal" stroke="#111" stroke-width="0.18" >R723del</text>
<path d="M189.80,324.08 H199.20" stroke="#f7941d" stroke-width="1.7"/>
<path d="M194.50,321.70 L196.88,324.08 L194.50,326.45 L192.12,324.08Z" fill="#f7941d"/>
<text x="202.30" y="326.58" font-size="6.8" text-anchor="start" font-weight="normal" stroke="#111" stroke-width="0.18" >V641_splice</text>
<path d="M189.80,332.50 H199.20" stroke="#00704a" stroke-width="1.7"/>
<circle cx="194.50" cy="332.50" r="1.99" fill="#00704a"/>
<text x="202.30" y="335.00" font-size="6.8" text-anchor="start" font-weight="normal" stroke="#111" stroke-width="0.18" >V641F</text>
<path d="M189.80,340.92 H199.20" stroke="#9a8fd3" stroke-width="1.7"/>
<rect x="192.60" y="339.02" width="3.80" height="3.80" fill="#9a8fd3"/>
<text x="202.30" y="343.42" font-size="6.8" text-anchor="start" font-weight="normal" stroke="#111" stroke-width="0.18" >S672N</text>
<path d="M189.80,349.34 H199.20" stroke="#2c3b50" stroke-width="1.7"/>
<path d="M194.50,346.96 L196.88,351.12 L192.12,351.12Z" fill="#2c3b50"/>
<text x="202.30" y="351.84" font-size="6.8" text-anchor="start" font-weight="normal" stroke="#111" stroke-width="0.18" >N763fs*12</text>
<path d="M189.80,357.76 H199.20" stroke="#29abe2" stroke-width="1.7"/>
<path d="M194.50,360.13 L196.88,355.98 L192.12,355.98Z" fill="#29abe2"/>
<text x="202.30" y="360.26" font-size="6.8" text-anchor="start" font-weight="normal" stroke="#111" stroke-width="0.18" >X780_splice</text>
<path d="M189.80,366.18 H199.20" stroke="#ec008c" stroke-width="1.7"/>
<path d="M194.50,363.80 L196.88,366.18 L194.50,368.55 L192.12,366.18Z" fill="#ec008c"/>
<text x="202.30" y="368.68" font-size="6.8" text-anchor="start" font-weight="normal" stroke="#111" stroke-width="0.18" >N799K</text>
<text x="284.00" y="280.40" font-size="10.5" text-anchor="start" font-weight="bold" stroke="#111" stroke-width="0.12" >D</text>
<path d="M302.40,281.10 V380.70 H443.30" stroke="#1a1a1a" stroke-width="1.25" fill="none"/>
<path d="M300.00,380.70 H302.40" stroke="#1a1a1a" stroke-width="1.15"/>
<text x="298.00" y="383.40" font-size="7.8" text-anchor="end" font-weight="normal" stroke="#111" stroke-width="0.12" >0</text>
<path d="M300.00,364.26 H302.40" stroke="#1a1a1a" stroke-width="1.15"/>
<text x="298.00" y="366.96" font-size="7.8" text-anchor="end" font-weight="normal" stroke="#111" stroke-width="0.12" >20</text>
<path d="M300.00,347.82 H302.40" stroke="#1a1a1a" stroke-width="1.15"/>
<text x="298.00" y="350.52" font-size="7.8" text-anchor="end" font-weight="normal" stroke="#111" stroke-width="0.12" >40</text>
<path d="M300.00,331.38 H302.40" stroke="#1a1a1a" stroke-width="1.15"/>
<text x="298.00" y="334.08" font-size="7.8" text-anchor="end" font-weight="normal" stroke="#111" stroke-width="0.12" >60</text>
<path d="M300.00,314.94 H302.40" stroke="#1a1a1a" stroke-width="1.15"/>
<text x="298.00" y="317.64" font-size="7.8" text-anchor="end" font-weight="normal" stroke="#111" stroke-width="0.12" >80</text>
<path d="M300.00,298.50 H302.40" stroke="#1a1a1a" stroke-width="1.15"/>
<text x="298.00" y="301.20" font-size="7.8" text-anchor="end" font-weight="normal" stroke="#111" stroke-width="0.12" >100</text>
<path d="M300.00,282.06 H302.40" stroke="#1a1a1a" stroke-width="1.15"/>
<path d="M302.40,380.70 V383.20" stroke="#1a1a1a" stroke-width="1.15"/>
<text x="302.40" y="392.70" font-size="7.3" text-anchor="middle" font-weight="normal" stroke="#111" stroke-width="0.12" >0</text>
<path d="M337.50,380.70 V383.20" stroke="#1a1a1a" stroke-width="1.15"/>
<text x="337.50" y="392.70" font-size="7.3" text-anchor="middle" font-weight="normal" stroke="#111" stroke-width="0.12" >1</text>
<path d="M372.60,380.70 V383.20" stroke="#1a1a1a" stroke-width="1.15"/>
<text x="372.60" y="392.70" font-size="7.3" text-anchor="middle" font-weight="normal" stroke="#111" stroke-width="0.12" >2</text>
<path d="M407.60,380.70 V383.20" stroke="#1a1a1a" stroke-width="1.15"/>
<text x="407.60" y="392.70" font-size="7.3" text-anchor="middle" font-weight="normal" stroke="#111" stroke-width="0.12" >3</text>
<path d="M442.70,380.70 V383.20" stroke="#1a1a1a" stroke-width="1.15"/>
<text x="442.70" y="392.70" font-size="7.3" text-anchor="middle" font-weight="normal" stroke="#111" stroke-width="0.12" >4</text>
<text font-size="8.9" text-anchor="middle" stroke="#111" stroke-width="0.3" transform="translate(372.55,404.00) scale(0.68,1)">Hours (CHX)</text>
<text font-size="9.4" text-anchor="middle" stroke="#111" stroke-width="0.3" transform="translate(283.40,331.20) rotate(-90) scale(0.64,1)">SNAIL Percentage</text>
<path d="M302.40,296.40 L337.50,356.00 L372.60,360.20 L442.70,370.50" stroke="#ec008c" stroke-width="1.5" fill="none" stroke-linejoin="round"/>
<path d="M337.50,352.95 L340.55,356.00 L337.50,359.05 L334.45,356.00Z" fill="#ec008c"/>
<path d="M372.60,357.15 L375.65,360.20 L372.60,363.25 L369.55,360.20Z" fill="#ec008c"/>
<path d="M442.70,367.45 L445.75,370.50 L442.70,373.55 L439.65,370.50Z" fill="#ec008c"/>
<path d="M302.40,296.40 L337.50,332.50 L372.60,375.00 L442.70,378.60" stroke="#164c85" stroke-width="1.5" fill="none" stroke-linejoin="round"/>
<rect x="335.06" y="330.06" width="4.88" height="4.88" fill="#164c85"/>
<rect x="370.16" y="372.56" width="4.88" height="4.88" fill="#164c85"/>
<rect x="440.26" y="376.16" width="4.88" height="4.88" fill="#164c85"/>
<path d="M302.40,296.40 L337.50,305.00 L372.60,316.00 L442.70,330.10" stroke="#9a8fd3" stroke-width="1.5" fill="none" stroke-linejoin="round"/>
<rect x="335.06" y="302.56" width="4.88" height="4.88" fill="#9a8fd3"/>
<rect x="370.16" y="313.56" width="4.88" height="4.88" fill="#9a8fd3"/>
<rect x="440.26" y="327.66" width="4.88" height="4.88" fill="#9a8fd3"/>
<path d="M302.40,296.40 L337.50,295.10 L372.60,315.00 L442.70,333.40" stroke="#29abe2" stroke-width="1.5" fill="none" stroke-linejoin="round"/>
<path d="M337.50,298.15 L340.55,292.81 L334.45,292.81Z" fill="#29abe2"/>
<path d="M372.60,318.05 L375.65,312.71 L369.55,312.71Z" fill="#29abe2"/>
<path d="M442.70,336.45 L445.75,331.11 L439.65,331.11Z" fill="#29abe2"/>
<path d="M302.40,296.40 L337.50,306.80 L372.60,317.50 L442.70,337.90" stroke="#2c3b50" stroke-width="1.5" fill="none" stroke-linejoin="round"/>
<path d="M337.50,303.75 L340.55,309.09 L334.45,309.09Z" fill="#2c3b50"/>
<path d="M372.60,314.45 L375.65,319.79 L369.55,319.79Z" fill="#2c3b50"/>
<path d="M442.70,334.85 L445.75,340.19 L439.65,340.19Z" fill="#2c3b50"/>
<path d="M302.40,296.40 L337.50,301.30 L372.60,317.00 L442.70,336.90" stroke="#5a2a82" stroke-width="1.5" fill="none" stroke-linejoin="round"/>
<path d="M337.50,304.35 L340.55,299.01 L334.45,299.01Z" fill="#5a2a82"/>
<path d="M372.60,320.05 L375.65,314.71 L369.55,314.71Z" fill="#5a2a82"/>
<path d="M442.70,339.95 L445.75,334.61 L439.65,334.61Z" fill="#5a2a82"/>
<path d="M302.40,296.40 L337.50,303.50 L372.60,313.60 L442.70,346.20" stroke="#3cb64a" stroke-width="1.5" fill="none" stroke-linejoin="round"/>
<path d="M337.50,300.45 L340.55,305.79 L334.45,305.79Z" fill="#3cb64a"/>
<path d="M372.60,310.55 L375.65,315.89 L369.55,315.89Z" fill="#3cb64a"/>
<path d="M442.70,343.15 L445.75,348.49 L439.65,348.49Z" fill="#3cb64a"/>
<path d="M302.40,296.40 L337.50,305.30 L372.60,316.70 L442.70,352.00" stroke="#c8102e" stroke-width="1.5" fill="none" stroke-linejoin="round"/>
<circle cx="337.50" cy="305.30" r="2.56" fill="#c8102e"/>
<circle cx="372.60" cy="316.70" r="2.56" fill="#c8102e"/>
<circle cx="442.70" cy="352.00" r="2.56" fill="#c8102e"/>
<path d="M302.40,296.40 L337.50,310.40 L372.60,310.60 L442.70,339.80" stroke="#f7941d" stroke-width="1.5" fill="none" stroke-linejoin="round"/>
<path d="M337.50,307.35 L340.55,310.40 L337.50,313.45 L334.45,310.40Z" fill="#f7941d"/>
<path d="M372.60,307.55 L375.65,310.60 L372.60,313.65 L369.55,310.60Z" fill="#f7941d"/>
<path d="M442.70,336.75 L445.75,339.80 L442.70,342.85 L439.65,339.80Z" fill="#f7941d"/>
<path d="M302.40,296.40 L337.50,313.30 L372.60,320.90 L442.70,324.90" stroke="#00704a" stroke-width="1.5" fill="none" stroke-linejoin="round"/>
<circle cx="337.50" cy="313.30" r="2.56" fill="#00704a"/>
<circle cx="372.60" cy="320.90" r="2.56" fill="#00704a"/>
<circle cx="442.70" cy="324.90" r="2.56" fill="#00704a"/>
<circle cx="442.70" cy="352.00" r="2.56" fill="#1d4f91"/>
<circle cx="302.40" cy="296.40" r="2.7" fill="#1b4f78"/>
<path d="M457.00,285.60 H466.40" stroke="#c8102e" stroke-width="1.7"/>
<circle cx="461.70" cy="285.60" r="1.99" fill="#c8102e"/>
<text x="469.50" y="288.10" font-size="6.8" text-anchor="start" font-weight="normal" stroke="#111" stroke-width="0.18" >GFP</text>
<path d="M457.00,294.08 H466.40" stroke="#164c85" stroke-width="1.7"/>
<rect x="459.80" y="292.18" width="3.80" height="3.80" fill="#164c85"/>
<text x="469.50" y="296.58" font-size="6.8" text-anchor="start" font-weight="normal" stroke="#111" stroke-width="0.18" >WT</text>
<path d="M457.00,302.56 H466.40" stroke="#3cb64a" stroke-width="1.7"/>
<path d="M461.70,300.19 L464.07,304.34 L459.32,304.34Z" fill="#3cb64a"/>
<text x="469.50" y="305.06" font-size="6.8" text-anchor="start" font-weight="normal" stroke="#111" stroke-width="0.18" >Q640_splice</text>
<path d="M457.00,311.04 H466.40" stroke="#5a2a82" stroke-width="1.7"/>
<path d="M461.70,313.42 L464.07,309.26 L459.32,309.26Z" fill="#5a2a82"/>
<text x="469.50" y="313.54" font-size="6.8" text-anchor="start" font-weight="normal" stroke="#111" stroke-width="0.18" >R723del</text>
<path d="M457.00,319.52 H466.40" stroke="#f7941d" stroke-width="1.7"/>
<path d="M461.70,317.15 L464.07,319.52 L461.70,321.90 L459.32,319.52Z" fill="#f7941d"/>
<text x="469.50" y="322.02" font-size="6.8" text-anchor="start" font-weight="normal" stroke="#111" stroke-width="0.18" >V641_splice</text>
<path d="M457.00,328.00 H466.40" stroke="#00704a" stroke-width="1.7"/>
<circle cx="461.70" cy="328.00" r="1.99" fill="#00704a"/>
<text x="469.50" y="330.50" font-size="6.8" text-anchor="start" font-weight="normal" stroke="#111" stroke-width="0.18" >V641F</text>
<path d="M457.00,336.48 H466.40" stroke="#9a8fd3" stroke-width="1.7"/>
<rect x="459.80" y="334.58" width="3.80" height="3.80" fill="#9a8fd3"/>
<text x="469.50" y="338.98" font-size="6.8" text-anchor="start" font-weight="normal" stroke="#111" stroke-width="0.18" >S672N</text>
<path d="M457.00,344.96 H466.40" stroke="#2c3b50" stroke-width="1.7"/>
<path d="M461.70,342.59 L464.07,346.74 L459.32,346.74Z" fill="#2c3b50"/>
<text x="469.50" y="347.46" font-size="6.8" text-anchor="start" font-weight="normal" stroke="#111" stroke-width="0.18" >N763fs*12</text>
<path d="M457.00,353.44 H466.40" stroke="#29abe2" stroke-width="1.7"/>
<path d="M461.70,355.82 L464.07,351.66 L459.32,351.66Z" fill="#29abe2"/>
<text x="469.50" y="355.94" font-size="6.8" text-anchor="start" font-weight="normal" stroke="#111" stroke-width="0.18" >X780_splice</text>
<path d="M457.00,361.92 H466.40" stroke="#ec008c" stroke-width="1.7"/>
<path d="M461.70,359.55 L464.07,361.92 L461.70,364.30 L459.32,361.92Z" fill="#ec008c"/>
<text x="469.50" y="364.42" font-size="6.8" text-anchor="start" font-weight="normal" stroke="#111" stroke-width="0.18" >N799K</text>
<rect x="0.75" y="0.75" width="518.5" height="410.5" fill="none" stroke="#000" stroke-width="1.6"/>
</svg>
</body></html>
